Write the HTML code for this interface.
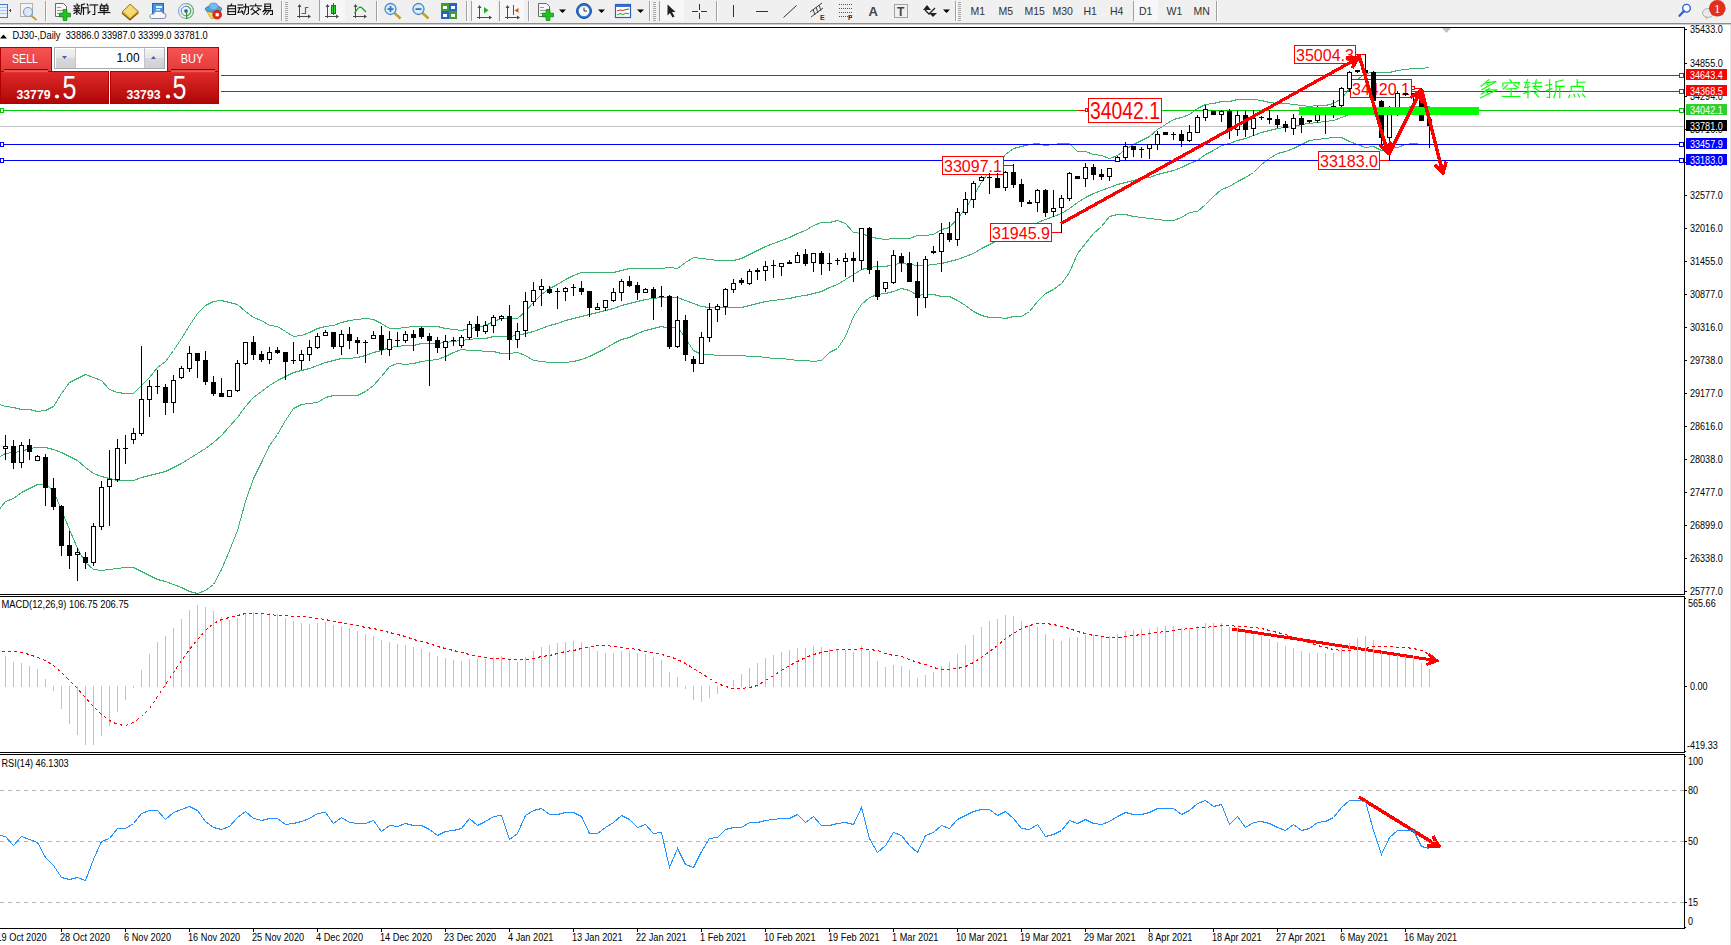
<!DOCTYPE html><html><head><meta charset="utf-8"><style>
html,body{margin:0;padding:0;background:#fff;overflow:hidden;width:1731px;height:945px}
svg text{font-family:"Liberation Sans", sans-serif}
.tf{font-size:10.5px;fill:#333}
</style></head><body>
<svg width="1731" height="945" viewBox="0 0 1731 945" style="display:block">
<rect x="0" y="25" width="1731" height="920" fill="#ffffff"/>
<rect x="1730" y="25" width="1" height="920" fill="#e3e3e3"/>
<rect x="0" y="27" width="1685" height="1" fill="#000"/>
<rect x="0" y="594" width="1685" height="1" fill="#000"/>
<rect x="0" y="596" width="1685" height="1" fill="#000"/>
<rect x="0" y="752" width="1685" height="1" fill="#000"/>
<rect x="0" y="754" width="1685" height="1" fill="#000"/>
<rect x="0" y="928" width="1685" height="1" fill="#000"/>
<rect x="1684" y="27" width="1" height="568" fill="#000"/>
<rect x="1684" y="596" width="1" height="157" fill="#000"/>
<rect x="1684" y="754" width="1" height="175" fill="#000"/>
<rect x="0" y="0" width="1731" height="23" fill="#f0f0f0"/>
<rect x="0" y="23" width="1731" height="1" fill="#8c8c8c"/>
<rect x="0" y="24" width="1731" height="1" fill="#cfcfcf"/>
<rect x="-3.5" y="4.5" width="11" height="13" fill="#eaf2ff" stroke="#3a78d0"/><rect x="-2" y="7" width="9" height="1" fill="#a8c4f0"/><rect x="-2" y="10" width="9" height="1" fill="#a8c4f0"/><rect x="-2" y="13" width="9" height="1" fill="#a8c4f0"/><rect x="9" y="10" width="2" height="1" fill="#444"/><rect x="10" y="9" width="1" height="3" fill="#444"/>
<rect x="20.5" y="3.5" width="12" height="13" fill="#f4f4f4" stroke="#b8b0a0"/><circle cx="28" cy="12" r="4.5" fill="#dce8f4" stroke="#6f9fd8" stroke-width="1.2"/><line x1="31" y1="15.5" x2="36.5" y2="20" stroke="#c8a030" stroke-width="2"/>
<rect x="45" y="1" width="1" height="20" fill="#a0a0a0"/><rect x="46" y="1" width="1" height="20" fill="#ffffff"/>
<path d="M55.5,3.5 h8 l3,3 v10 h-11 z" fill="#f8f8f8" stroke="#6a6a6a" stroke-width="1"/><rect x="57" y="7" width="4" height="1" fill="#999"/><rect x="57" y="10" width="6" height="1" fill="#999"/><rect x="57" y="13" width="6" height="1" fill="#999"/><path d="M63.166666666666664,9.5 h3.6666666666666665 v3.6666666666666665 h3.6666666666666665 v3.6666666666666665 h-3.6666666666666665 v3.6666666666666665 h-3.6666666666666665 v-3.6666666666666665 h-3.6666666666666665 v-3.6666666666666665 h3.6666666666666665 z" fill="#1fc21f" stroke="#0a8a0a" stroke-width="0.8"/>
<polyline points="76.85,4.00 77.80,4.95" fill="none" stroke="#111" stroke-width="1.1" stroke-linecap="square"/><polyline points="74.00,5.90 79.70,5.90" fill="none" stroke="#111" stroke-width="1.1" stroke-linecap="square"/><polyline points="74.95,6.85 75.90,7.80" fill="none" stroke="#111" stroke-width="1.1" stroke-linecap="square"/><polyline points="78.75,6.85 77.80,7.80" fill="none" stroke="#111" stroke-width="1.1" stroke-linecap="square"/><polyline points="74.00,8.75 79.70,8.75" fill="none" stroke="#111" stroke-width="1.1" stroke-linecap="square"/><polyline points="74.00,10.65 79.70,10.65" fill="none" stroke="#111" stroke-width="1.1" stroke-linecap="square"/><polyline points="76.85,8.75 76.85,14.45" fill="none" stroke="#111" stroke-width="1.1" stroke-linecap="square"/><polyline points="76.85,11.60 74.00,13.50" fill="none" stroke="#111" stroke-width="1.1" stroke-linecap="square"/><polyline points="77.80,11.60 79.70,13.50" fill="none" stroke="#111" stroke-width="1.1" stroke-linecap="square"/><polyline points="84.45,4.00 81.60,4.95" fill="none" stroke="#111" stroke-width="1.1" stroke-linecap="square"/><polyline points="81.60,4.95 81.60,10.65 80.65,14.45" fill="none" stroke="#111" stroke-width="1.1" stroke-linecap="square"/><polyline points="81.60,7.80 85.40,7.80" fill="none" stroke="#111" stroke-width="1.1" stroke-linecap="square"/><polyline points="83.50,7.80 83.50,14.45" fill="none" stroke="#111" stroke-width="1.1" stroke-linecap="square"/><polyline points="87.15,4.00 88.10,5.90" fill="none" stroke="#111" stroke-width="1.1" stroke-linecap="square"/><polyline points="86.20,7.80 88.10,7.80 88.10,13.50 90.00,11.60" fill="none" stroke="#111" stroke-width="1.1" stroke-linecap="square"/><polyline points="90.00,4.95 97.60,4.95" fill="none" stroke="#111" stroke-width="1.1" stroke-linecap="square"/><polyline points="94.75,4.95 94.75,14.45 92.85,14.45" fill="none" stroke="#111" stroke-width="1.1" stroke-linecap="square"/><polyline points="101.25,4.00 102.20,4.95" fill="none" stroke="#111" stroke-width="1.1" stroke-linecap="square"/><polyline points="106.95,4.00 106.00,4.95" fill="none" stroke="#111" stroke-width="1.1" stroke-linecap="square"/><polyline points="100.30,5.90 107.90,5.90 107.90,10.65 100.30,10.65 100.30,5.90" fill="none" stroke="#111" stroke-width="1.1" stroke-linecap="square"/><polyline points="100.30,8.27 107.90,8.27" fill="none" stroke="#111" stroke-width="1.1" stroke-linecap="square"/><polyline points="104.10,5.90 104.10,14.45" fill="none" stroke="#111" stroke-width="1.1" stroke-linecap="square"/><polyline points="98.40,12.55 109.80,12.55" fill="none" stroke="#111" stroke-width="1.1" stroke-linecap="square"/>
<path d="M122,12 L130,19 L138.5,11.5 L130,4 Z" fill="#e9c64a" stroke="#a47a18" stroke-width="0.9"/><path d="M124,11.5 L130,5.5 L136.5,11.5 L130,17 Z" fill="#f6dc78"/><path d="M122,13 L130,20 L138.5,12.5" fill="none" stroke="#8a5a10" stroke-width="1.3"/>
<rect x="152.5" y="3.5" width="11" height="10" fill="#4a94e4" stroke="#2a64b4"/><rect x="156" y="6" width="6" height="2" fill="#e8f2ff"/><rect x="156" y="9" width="4" height="1.5" fill="#e8f2ff"/><path d="M151.5,18.5 Q149,18 150,15.5 Q151,13.5 153.5,14 Q155,10.5 159,11.5 Q161.5,10.5 163,13 Q166.5,13 166,16 Q166,18.5 163.5,18.5 Z" fill="#f4f7fb" stroke="#7f8fa8" stroke-width="1"/>
<circle cx="186" cy="11" r="7.5" fill="none" stroke="#7aa0d8" stroke-width="1"/><circle cx="186" cy="11" r="4.8" fill="none" stroke="#5a88d0" stroke-width="1"/><path d="M186,3.5 A7.5,7.5 0 0 1 186,18.5" fill="none" stroke="#78b878" stroke-width="1.1"/><path d="M186,6.2 A4.8,4.8 0 0 1 186,15.8" fill="none" stroke="#60a860" stroke-width="1.1"/><circle cx="186" cy="11" r="1.8" fill="#2050c0"/><rect x="186" y="11" width="1.2" height="8" fill="#20a020"/>
<path d="M206.5,11 L211,18.5 L218,18.5 L221,11 Z" fill="#f2d858" stroke="#c8a428" stroke-width="0.8"/><ellipse cx="213.5" cy="9" rx="8.3" ry="3.2" fill="#5aa2de" stroke="#2f6eb0" stroke-width="0.8"/><ellipse cx="213.5" cy="6.5" rx="4.5" ry="3.5" fill="#78bcee" stroke="#3a7ab8" stroke-width="0.6"/><circle cx="217.2" cy="14.7" r="4.4" fill="#e2261c" stroke="#b01010" stroke-width="0.6"/><rect x="215.6" y="13.1" width="3.2" height="3.2" fill="#fff"/>
<polyline points="231.70,4.00 230.75,5.42" fill="none" stroke="#111" stroke-width="1.1" stroke-linecap="square"/><polyline points="227.90,5.90 235.50,5.90 235.50,14.45 227.90,14.45 227.90,5.90" fill="none" stroke="#111" stroke-width="1.1" stroke-linecap="square"/><polyline points="227.90,8.75 235.50,8.75" fill="none" stroke="#111" stroke-width="1.1" stroke-linecap="square"/><polyline points="227.90,11.60 235.50,11.60" fill="none" stroke="#111" stroke-width="1.1" stroke-linecap="square"/><polyline points="238.00,4.95 242.75,4.95" fill="none" stroke="#111" stroke-width="1.1" stroke-linecap="square"/><polyline points="238.00,7.80 242.75,7.80" fill="none" stroke="#111" stroke-width="1.1" stroke-linecap="square"/><polyline points="239.90,7.80 238.00,12.55 242.75,11.60" fill="none" stroke="#111" stroke-width="1.1" stroke-linecap="square"/><polyline points="241.80,10.65 242.75,13.50" fill="none" stroke="#111" stroke-width="1.1" stroke-linecap="square"/><polyline points="243.70,6.85 248.45,6.85 248.45,13.50 246.55,14.45" fill="none" stroke="#111" stroke-width="1.1" stroke-linecap="square"/><polyline points="245.60,4.00 245.60,8.75 243.70,14.45" fill="none" stroke="#111" stroke-width="1.1" stroke-linecap="square"/><polyline points="255.70,4.00 255.70,5.42" fill="none" stroke="#111" stroke-width="1.1" stroke-linecap="square"/><polyline points="250.00,5.90 261.40,5.90" fill="none" stroke="#111" stroke-width="1.1" stroke-linecap="square"/><polyline points="252.85,7.80 250.95,9.70" fill="none" stroke="#111" stroke-width="1.1" stroke-linecap="square"/><polyline points="257.60,7.80 260.45,9.70" fill="none" stroke="#111" stroke-width="1.1" stroke-linecap="square"/><polyline points="252.85,9.70 258.55,14.45" fill="none" stroke="#111" stroke-width="1.1" stroke-linecap="square"/><polyline points="258.55,9.70 251.90,14.45" fill="none" stroke="#111" stroke-width="1.1" stroke-linecap="square"/><polyline points="264.85,4.00 270.55,4.00 270.55,8.75 264.85,8.75 264.85,4.00" fill="none" stroke="#111" stroke-width="1.1" stroke-linecap="square"/><polyline points="264.85,6.38 270.55,6.38" fill="none" stroke="#111" stroke-width="1.1" stroke-linecap="square"/><polyline points="265.80,8.75 262.95,11.60" fill="none" stroke="#111" stroke-width="1.1" stroke-linecap="square"/><polyline points="263.90,10.65 272.45,10.65 272.45,14.45 270.55,14.45" fill="none" stroke="#111" stroke-width="1.1" stroke-linecap="square"/><polyline points="266.75,10.65 263.90,14.45" fill="none" stroke="#111" stroke-width="1.1" stroke-linecap="square"/><polyline points="269.60,10.65 266.75,14.45" fill="none" stroke="#111" stroke-width="1.1" stroke-linecap="square"/>
<rect x="281" y="1" width="1" height="20" fill="#a0a0a0"/><rect x="282" y="1" width="1" height="20" fill="#ffffff"/>
<rect x="285" y="2" width="3" height="1" fill="#a8a8a8"/><rect x="285" y="4" width="3" height="1" fill="#a8a8a8"/><rect x="285" y="6" width="3" height="1" fill="#a8a8a8"/><rect x="285" y="8" width="3" height="1" fill="#a8a8a8"/><rect x="285" y="10" width="3" height="1" fill="#a8a8a8"/><rect x="285" y="12" width="3" height="1" fill="#a8a8a8"/><rect x="285" y="14" width="3" height="1" fill="#a8a8a8"/><rect x="285" y="16" width="3" height="1" fill="#a8a8a8"/><rect x="285" y="18" width="3" height="1" fill="#a8a8a8"/><rect x="285" y="20" width="3" height="1" fill="#a8a8a8"/>
<rect x="299" y="5" width="1" height="13" fill="#4a4a4a"/><rect x="297" y="16" width="12" height="1" fill="#4a4a4a"/><polygon points="297.5,7 299.5,4 301.5,7" fill="#4a4a4a"/><polygon points="308,14.5 311,16.5 308,18.5" fill="#4a4a4a"/><path d="M301.5,13.5 H305.5 V7.5 H308.5" fill="none" stroke="#1a9a1a" stroke-width="1.2"/>
<rect x="320" y="0" width="25" height="21" fill="#f7f7f7"/><rect x="319" y="0" width="1" height="21" fill="#a0a0a0"/>
<rect x="327" y="5" width="1" height="13" fill="#4a4a4a"/><rect x="325" y="16" width="12" height="1" fill="#4a4a4a"/><polygon points="325.5,7 327.5,4 329.5,7" fill="#4a4a4a"/><polygon points="336,14.5 339,16.5 336,18.5" fill="#4a4a4a"/><rect x="331.5" y="5.5" width="4" height="8" fill="#30d030" stroke="#108010"/><rect x="333" y="3" width="1" height="12" fill="#108010"/>
<rect x="355" y="5" width="1" height="13" fill="#4a4a4a"/><rect x="353" y="16" width="12" height="1" fill="#4a4a4a"/><polygon points="353.5,7 355.5,4 357.5,7" fill="#4a4a4a"/><polygon points="364,14.5 367,16.5 364,18.5" fill="#4a4a4a"/><path d="M354.5,13.5 Q359,5 362,8 L366,12" fill="none" stroke="#1a9a1a" stroke-width="1.2"/>
<rect x="376" y="1" width="1" height="20" fill="#a0a0a0"/><rect x="377" y="1" width="1" height="20" fill="#ffffff"/>
<line x1="394.5" y1="13" x2="400.5" y2="18.5" stroke="#c8a020" stroke-width="2.5"/><circle cx="390.5" cy="9" r="5.5" fill="#d8ecfa" stroke="#4a88d0" stroke-width="1.3"/><rect x="387.5" y="8.2" width="6" height="1.8" fill="#3a78c0"/><rect x="389.6" y="6" width="1.8" height="6" fill="#3a78c0"/>
<line x1="422.5" y1="13" x2="428.5" y2="18.5" stroke="#c8a020" stroke-width="2.5"/><circle cx="418.5" cy="9" r="5.5" fill="#d8ecfa" stroke="#4a88d0" stroke-width="1.3"/><rect x="415.5" y="8.2" width="6" height="1.8" fill="#3a78c0"/>
<rect x="441" y="3" width="8" height="8" fill="#3aa030"/><rect x="449" y="3" width="8" height="8" fill="#2a60c8"/><rect x="441" y="11" width="8" height="8" fill="#2a60c8"/><rect x="449" y="11" width="8" height="8" fill="#3aa030"/><rect x="443" y="6" width="4" height="3" fill="#fff"/><rect x="451" y="6" width="4" height="3" fill="#fff"/><rect x="443" y="14" width="4" height="3" fill="#fff"/><rect x="451" y="14" width="4" height="3" fill="#fff"/>
<rect x="466" y="1" width="1" height="20" fill="#a0a0a0"/><rect x="467" y="1" width="1" height="20" fill="#ffffff"/>
<rect x="471" y="1" width="1" height="20" fill="#a0a0a0"/>
<rect x="472" y="0" width="25" height="21" fill="#f7f7f7"/><rect x="479" y="6" width="1" height="13" fill="#4a4a4a"/><rect x="477" y="17" width="13" height="1" fill="#4a4a4a"/><polygon points="477.5,8 479.5,5 481.5,8" fill="#4a4a4a"/><polygon points="489,15.5 492,17.5 489,19.5" fill="#4a4a4a"/><polygon points="484,7 488.5,10.2 484,13.5" fill="#20b020"/>
<rect x="499" y="1" width="1" height="20" fill="#a0a0a0"/>
<rect x="500" y="0" width="24" height="21" fill="#f7f7f7"/><rect x="507" y="6" width="1" height="13" fill="#4a4a4a"/><rect x="505" y="17" width="13" height="1" fill="#4a4a4a"/><polygon points="505.5,8 507.5,5 509.5,8" fill="#4a4a4a"/><polygon points="517,15.5 520,17.5 517,19.5" fill="#4a4a4a"/><rect x="513" y="5" width="1" height="10" fill="#2060c0"/><polygon points="514.5,10.4 518.5,8 518.5,12.8" fill="#e05010"/>
<rect x="528" y="1" width="1" height="20" fill="#a0a0a0"/><rect x="529" y="1" width="1" height="20" fill="#ffffff"/>
<path d="M538.5,3.5 h8 l3,3 v10 h-11 z" fill="#f8f8f8" stroke="#6a6a6a" stroke-width="1"/><rect x="540" y="7" width="4" height="1" fill="#999"/><rect x="540" y="10" width="6" height="1" fill="#999"/><rect x="540" y="13" width="6" height="1" fill="#999"/><path d="M546.1666666666666,9.5 h3.6666666666666665 v3.6666666666666665 h3.6666666666666665 v3.6666666666666665 h-3.6666666666666665 v3.6666666666666665 h-3.6666666666666665 v-3.6666666666666665 h-3.6666666666666665 v-3.6666666666666665 h3.6666666666666665 z" fill="#1fc21f" stroke="#0a8a0a" stroke-width="0.8"/>
<polygon points="559,9.5 566,9.5 562.5,13" fill="#000"/>
<circle cx="584" cy="11" r="7.5" fill="#2a70d0" stroke="#1a50a0"/><circle cx="584" cy="11" r="5.3" fill="#f8f8f8"/><path d="M584,7.5 V11 H587" fill="none" stroke="#333" stroke-width="1"/>
<polygon points="598,9.5 605,9.5 601.5,13" fill="#000"/>
<rect x="615.5" y="4.5" width="15" height="13" fill="#fff" stroke="#2a60c0" stroke-width="1.2"/><rect x="616" y="5" width="14" height="2" fill="#3a70d0"/><path d="M617,11 L620,10 L623,10.5 L626,9.5 L629,9" fill="none" stroke="#c03020" stroke-width="1"/><path d="M617,15 L620,13.5 L623,14.5 L626,13 L629,14" fill="none" stroke="#20a020" stroke-width="1"/>
<polygon points="637,9.5 644,9.5 640.5,13" fill="#000"/>
<rect x="649" y="1" width="1" height="20" fill="#a0a0a0"/><rect x="650" y="1" width="1" height="20" fill="#ffffff"/>
<rect x="653" y="2" width="3" height="1" fill="#a8a8a8"/><rect x="653" y="4" width="3" height="1" fill="#a8a8a8"/><rect x="653" y="6" width="3" height="1" fill="#a8a8a8"/><rect x="653" y="8" width="3" height="1" fill="#a8a8a8"/><rect x="653" y="10" width="3" height="1" fill="#a8a8a8"/><rect x="653" y="12" width="3" height="1" fill="#a8a8a8"/><rect x="653" y="14" width="3" height="1" fill="#a8a8a8"/><rect x="653" y="16" width="3" height="1" fill="#a8a8a8"/><rect x="653" y="18" width="3" height="1" fill="#a8a8a8"/><rect x="653" y="20" width="3" height="1" fill="#a8a8a8"/>
<rect x="659" y="1" width="1" height="20" fill="#a0a0a0"/>
<rect x="660" y="0" width="24" height="21" fill="#f7f7f7"/>
<path d="M667.5,4.5 L667.5,15.5 L670,13 L672.5,17.5 L674.5,16.5 L672,12 L675.5,12 Z" fill="#222"/>
<rect x="692" y="11" width="15" height="1" fill="#333"/><rect x="699" y="4" width="1" height="15" fill="#333"/><rect x="698" y="10" width="3" height="3" fill="#f0f0f0"/>
<rect x="716" y="1" width="1" height="20" fill="#a0a0a0"/><rect x="717" y="1" width="1" height="20" fill="#ffffff"/>
<rect x="733" y="5" width="1" height="12" fill="#333"/>
<rect x="756" y="11" width="12" height="1" fill="#333"/>
<line x1="783.5" y1="17.5" x2="796.5" y2="5.5" stroke="#333" stroke-width="1"/>
<line x1="810" y1="12" x2="822" y2="3" stroke="#444" stroke-width="1"/><line x1="811" y1="17" x2="823" y2="8" stroke="#444" stroke-width="1"/><line x1="813" y1="9" x2="815" y2="15" stroke="#444"/><line x1="816" y1="7" x2="818" y2="13" stroke="#444"/><line x1="819" y1="5" x2="821" y2="11" stroke="#444"/><text x="820" y="20" style="font-size:7px;font-weight:bold;fill:#333">E</text>
<line x1="839" y1="4.5" x2="853" y2="4.5" stroke="#555" stroke-dasharray="1 1"/>
<line x1="839" y1="8.5" x2="853" y2="8.5" stroke="#555" stroke-dasharray="1 1"/>
<line x1="839" y1="12.5" x2="853" y2="12.5" stroke="#555" stroke-dasharray="1 1"/>
<line x1="839" y1="16.5" x2="853" y2="16.5" stroke="#555" stroke-dasharray="1 1"/>
<text x="848" y="20" style="font-size:7px;font-weight:bold;fill:#333">F</text>
<text x="868.5" y="16" style="font-size:13px;font-weight:bold;fill:#444">A</text>
<rect x="894.5" y="4.5" width="13" height="13" fill="none" stroke="#555" stroke-dasharray="1 1"/><text x="897" y="16" style="font-size:12px;font-weight:bold;fill:#444">T</text>
<polygon points="923,10 927,5 931,10" fill="#222"/><polygon points="929,13 933,17 937,13" fill="#222"/><path d="M925,10 L929,14 L935,8" fill="none" stroke="#222" stroke-width="1.3"/>
<polygon points="943,9.5 950,9.5 946.5,13" fill="#000"/>
<rect x="955" y="1" width="1" height="20" fill="#a0a0a0"/><rect x="956" y="1" width="1" height="20" fill="#ffffff"/>
<rect x="958" y="2" width="3" height="1" fill="#a8a8a8"/><rect x="958" y="4" width="3" height="1" fill="#a8a8a8"/><rect x="958" y="6" width="3" height="1" fill="#a8a8a8"/><rect x="958" y="8" width="3" height="1" fill="#a8a8a8"/><rect x="958" y="10" width="3" height="1" fill="#a8a8a8"/><rect x="958" y="12" width="3" height="1" fill="#a8a8a8"/><rect x="958" y="14" width="3" height="1" fill="#a8a8a8"/><rect x="958" y="16" width="3" height="1" fill="#a8a8a8"/><rect x="958" y="18" width="3" height="1" fill="#a8a8a8"/><rect x="958" y="20" width="3" height="1" fill="#a8a8a8"/>
<text x="970.5" y="15" class="tf">M1</text>
<text x="998.5" y="15" class="tf">M5</text>
<text x="1024.5" y="15" class="tf">M15</text>
<text x="1052.5" y="15" class="tf">M30</text>
<text x="1083.5" y="15" class="tf">H1</text>
<text x="1110" y="15" class="tf">H4</text>
<rect x="1133" y="1" width="1" height="20" fill="#a0a0a0"/><rect x="1134" y="0" width="24" height="21" fill="#f7f7f7"/>
<text x="1139" y="15" class="tf">D1</text>
<text x="1166.5" y="15" class="tf">W1</text>
<text x="1193.5" y="15" class="tf">MN</text>
<rect x="1216" y="1" width="1" height="20" fill="#a0a0a0"/><rect x="1217" y="1" width="1" height="20" fill="#ffffff"/>
<circle cx="1686.5" cy="8.2" r="3.8" fill="#fff" stroke="#2a60d0" stroke-width="1.4"/><line x1="1684" y1="11" x2="1679.5" y2="15.8" stroke="#2a60d0" stroke-width="2.2" stroke-linecap="round"/>
<ellipse cx="1708" cy="13" rx="5.5" ry="4.5" fill="#e8e8ee" stroke="#b0b0b0" stroke-width="1"/><polygon points="1705,16 1706,20 1709,17" fill="#c0c0c0"/>
<circle cx="1717.3" cy="8.3" r="8.3" fill="#e0301c"/><text x="1717.3" y="12.5" text-anchor="middle" style="font-size:12px;font-family:'Liberation Serif',serif;fill:#fff">1</text>
<polygon points="0,38.5 3.5,34.5 7,38.5" fill="#000"/>
<text transform="translate(12.5,39) scale(0.93,1)" x="0" y="0" text-anchor="start" style="font-size:10px;font-weight:normal;fill:#000;white-space:pre">DJ30-,Daily  33886.0 33987.0 33399.0 33781.0</text>
<polygon points="1442,28 1451,28 1446.5,33" fill="#c0c0c0"/>
<polyline points="0.0,404.5 5.5,406.5 13.5,407.5 21.5,409.5 29.5,409.5 37.5,411.5 45.5,410.5 53.5,406.5 61.5,393.5 69.5,382.5 77.5,378.5 85.5,374.5 93.5,377.5 101.5,380.5 109.5,389.5 117.5,392.5 125.5,393.5 133.5,393.5 141.5,385.5 149.5,377.5 157.5,367.5 165.5,361.5 173.5,350.5 181.5,338.5 189.5,325.5 197.5,313.5 205.5,305.5 213.5,301.5 221.5,300.5 229.5,302.5 237.5,304.5 245.5,311.5 253.5,317.5 261.5,320.5 269.5,325.5 277.5,326.5 285.5,331.5 293.5,336.5 301.5,335.5 309.5,332.5 317.5,328.5 325.5,326.5 333.5,325.5 341.5,322.5 349.5,320.5 357.5,319.5 365.5,318.5 373.5,319.5 381.5,323.5 389.5,328.5 397.5,328.5 405.5,327.5 413.5,326.5 421.5,326.5 429.5,326.5 437.5,326.5 445.5,328.5 453.5,329.5 461.5,330.5 469.5,328.5 477.5,327.5 485.5,325.5 493.5,321.5 501.5,318.5 509.5,318.5 517.5,318.5 525.5,311.5 533.5,302.5 541.5,294.5 549.5,288.5 557.5,284.5 565.5,279.5 573.5,275.5 581.5,272.5 589.5,272.5 597.5,272.5 605.5,272.5 613.5,272.5 621.5,270.5 629.5,268.5 637.5,268.5 645.5,268.5 653.5,268.5 661.5,268.5 669.5,267.5 677.5,268.5 685.5,262.5 693.5,257.5 701.5,258.5 709.5,259.5 717.5,260.5 725.5,260.5 733.5,260.5 741.5,258.5 749.5,254.5 757.5,250.5 765.5,246.5 773.5,243.5 781.5,240.5 789.5,237.5 797.5,233.5 805.5,230.5 813.5,225.5 821.5,222.5 829.5,222.5 837.5,220.5 845.5,223.5 853.5,232.5 861.5,233.5 869.5,236.5 877.5,238.5 885.5,239.5 893.5,238.5 901.5,238.5 909.5,238.5 917.5,235.5 925.5,235.5 933.5,234.5 941.5,229.5 949.5,227.5 957.5,218.5 965.5,208.5 973.5,195.5 981.5,182.5 989.5,171.5 997.5,164.5 1005.5,154.5 1013.5,148.5 1021.5,146.5 1029.5,144.5 1037.5,143.5 1045.5,145.5 1053.5,144.5 1061.5,143.5 1069.5,143.5 1077.5,151.5 1085.5,151.5 1093.5,154.5 1101.5,155.5 1109.5,158.5 1117.5,155.5 1125.5,149.5 1133.5,144.5 1141.5,140.5 1149.5,136.5 1157.5,129.5 1165.5,124.5 1173.5,119.5 1181.5,117.5 1189.5,114.5 1197.5,108.5 1205.5,104.5 1213.5,103.5 1221.5,101.5 1229.5,101.5 1237.5,99.5 1245.5,99.5 1253.5,99.5 1261.5,100.5 1269.5,102.5 1277.5,103.5 1285.5,103.5 1293.5,104.5 1301.5,105.5 1309.5,106.5 1317.5,105.5 1325.5,105.5 1333.5,103.5 1341.5,98.5 1349.5,88.5 1357.5,79.5 1365.5,73.5 1373.5,72.5 1381.5,72.5 1389.5,72.5 1397.5,70.5 1405.5,69.5 1413.5,68.5 1421.5,68.5 1429.5,67.5" fill="none" stroke="#3cb371" stroke-width="1" shape-rendering="crispEdges"/>
<polyline points="0.0,456.5 5.5,453.5 13.5,452.5 21.5,451.5 29.5,448.5 37.5,447.5 45.5,447.5 53.5,449.5 61.5,452.5 69.5,456.5 77.5,460.5 85.5,467.5 93.5,473.5 101.5,476.5 109.5,478.5 117.5,480.5 125.5,480.5 133.5,480.5 141.5,477.5 149.5,475.5 157.5,473.5 165.5,471.5 173.5,467.5 181.5,463.5 189.5,458.5 197.5,453.5 205.5,448.5 213.5,442.5 221.5,435.5 229.5,426.5 237.5,417.5 245.5,406.5 253.5,397.5 261.5,391.5 269.5,385.5 277.5,380.5 285.5,376.5 293.5,372.5 301.5,370.5 309.5,368.5 317.5,365.5 325.5,362.5 333.5,360.5 341.5,358.5 349.5,358.5 357.5,357.5 365.5,355.5 373.5,352.5 381.5,350.5 389.5,347.5 397.5,346.5 405.5,345.5 413.5,345.5 421.5,343.5 429.5,343.5 437.5,343.5 445.5,342.5 453.5,341.5 461.5,340.5 469.5,339.5 477.5,338.5 485.5,338.5 493.5,336.5 501.5,336.5 509.5,336.5 517.5,335.5 525.5,333.5 533.5,331.5 541.5,328.5 549.5,325.5 557.5,323.5 565.5,320.5 573.5,318.5 581.5,316.5 589.5,314.5 597.5,312.5 605.5,310.5 613.5,308.5 621.5,305.5 629.5,303.5 637.5,301.5 645.5,299.5 653.5,298.5 661.5,297.5 669.5,297.5 677.5,297.5 685.5,300.5 693.5,303.5 701.5,306.5 709.5,307.5 717.5,307.5 725.5,307.5 733.5,307.5 741.5,307.5 749.5,305.5 757.5,303.5 765.5,301.5 773.5,300.5 781.5,299.5 789.5,298.5 797.5,296.5 805.5,295.5 813.5,293.5 821.5,291.5 829.5,287.5 837.5,284.5 845.5,279.5 853.5,274.5 861.5,269.5 869.5,267.5 877.5,266.5 885.5,266.5 893.5,264.5 901.5,263.5 909.5,264.5 917.5,265.5 925.5,265.5 933.5,264.5 941.5,263.5 949.5,261.5 957.5,259.5 965.5,256.5 973.5,253.5 981.5,248.5 989.5,244.5 997.5,240.5 1005.5,236.5 1013.5,232.5 1021.5,231.5 1029.5,228.5 1037.5,222.5 1045.5,219.5 1053.5,216.5 1061.5,213.5 1069.5,208.5 1077.5,202.5 1085.5,197.5 1093.5,193.5 1101.5,190.5 1109.5,187.5 1117.5,184.5 1125.5,182.5 1133.5,180.5 1141.5,178.5 1149.5,177.5 1157.5,174.5 1165.5,172.5 1173.5,170.5 1181.5,167.5 1189.5,163.5 1197.5,160.5 1205.5,154.5 1213.5,150.5 1221.5,145.5 1229.5,143.5 1237.5,140.5 1245.5,138.5 1253.5,135.5 1261.5,132.5 1269.5,130.5 1277.5,128.5 1285.5,127.5 1293.5,126.5 1301.5,124.5 1309.5,123.5 1317.5,122.5 1325.5,121.5 1333.5,120.5 1341.5,117.5 1349.5,114.5 1357.5,112.5 1365.5,110.5 1373.5,109.5 1381.5,111.5 1389.5,110.5 1397.5,108.5 1405.5,107.5 1413.5,106.5 1421.5,106.5 1429.5,106.5" fill="none" stroke="#3cb371" stroke-width="1" shape-rendering="crispEdges"/>
<polyline points="0.0,508.5 5.5,501.5 13.5,498.5 21.5,492.5 29.5,488.5 37.5,484.5 45.5,484.5 53.5,490.5 61.5,510.5 69.5,529.5 77.5,548.5 85.5,562.5 93.5,569.5 101.5,570.5 109.5,569.5 117.5,568.5 125.5,567.5 133.5,567.5 141.5,571.5 149.5,575.5 157.5,579.5 165.5,581.5 173.5,584.5 181.5,587.5 189.5,591.5 197.5,593.5 205.5,590.5 213.5,584.5 221.5,569.5 229.5,550.5 237.5,530.5 245.5,501.5 253.5,478.5 261.5,462.5 269.5,445.5 277.5,434.5 285.5,420.5 293.5,408.5 301.5,404.5 309.5,403.5 317.5,402.5 325.5,397.5 333.5,395.5 341.5,395.5 349.5,395.5 357.5,395.5 365.5,391.5 373.5,385.5 381.5,376.5 389.5,366.5 397.5,363.5 405.5,364.5 413.5,363.5 421.5,361.5 429.5,360.5 437.5,359.5 445.5,356.5 453.5,352.5 461.5,349.5 469.5,350.5 477.5,350.5 485.5,351.5 493.5,351.5 501.5,353.5 509.5,353.5 517.5,352.5 525.5,355.5 533.5,360.5 541.5,361.5 549.5,362.5 557.5,362.5 565.5,362.5 573.5,361.5 581.5,359.5 589.5,356.5 597.5,352.5 605.5,348.5 613.5,343.5 621.5,339.5 629.5,337.5 637.5,333.5 645.5,330.5 653.5,328.5 661.5,326.5 669.5,328.5 677.5,326.5 685.5,338.5 693.5,350.5 701.5,354.5 709.5,354.5 717.5,355.5 725.5,355.5 733.5,355.5 741.5,355.5 749.5,356.5 757.5,356.5 765.5,357.5 773.5,358.5 781.5,358.5 789.5,359.5 797.5,360.5 805.5,360.5 813.5,361.5 821.5,360.5 829.5,352.5 837.5,348.5 845.5,336.5 853.5,316.5 861.5,304.5 869.5,297.5 877.5,294.5 885.5,293.5 893.5,291.5 901.5,288.5 909.5,290.5 917.5,295.5 925.5,294.5 933.5,294.5 941.5,296.5 949.5,296.5 957.5,300.5 965.5,305.5 973.5,311.5 981.5,315.5 989.5,317.5 997.5,317.5 1005.5,318.5 1013.5,316.5 1021.5,316.5 1029.5,311.5 1037.5,301.5 1045.5,293.5 1053.5,289.5 1061.5,283.5 1069.5,272.5 1077.5,253.5 1085.5,243.5 1093.5,233.5 1101.5,226.5 1109.5,216.5 1117.5,214.5 1125.5,214.5 1133.5,216.5 1141.5,217.5 1149.5,218.5 1157.5,219.5 1165.5,220.5 1173.5,220.5 1181.5,217.5 1189.5,212.5 1197.5,211.5 1205.5,204.5 1213.5,196.5 1221.5,189.5 1229.5,186.5 1237.5,181.5 1245.5,177.5 1253.5,172.5 1261.5,164.5 1269.5,158.5 1277.5,153.5 1285.5,151.5 1293.5,148.5 1301.5,144.5 1309.5,140.5 1317.5,139.5 1325.5,138.5 1333.5,137.5 1341.5,137.5 1349.5,141.5 1357.5,144.5 1365.5,147.5 1373.5,146.5 1381.5,150.5 1389.5,147.5 1397.5,147.5 1405.5,144.5 1413.5,143.5 1421.5,144.5 1429.5,144.5" fill="none" stroke="#3cb371" stroke-width="1" shape-rendering="crispEdges"/>
<rect x="0" y="75" width="1684" height="1" fill="#ff0000"/>
<rect x="1679.5" y="73.5" width="4" height="4" fill="#fff" stroke="#ff0000" stroke-width="1"/>
<rect x="0.5" y="73.5" width="3" height="4" fill="#fff" stroke="#ff0000" stroke-width="1"/>
<rect x="0" y="91" width="1684" height="1" fill="#ff0000"/>
<rect x="1679.5" y="89.5" width="4" height="4" fill="#fff" stroke="#ff0000" stroke-width="1"/>
<rect x="0.5" y="89.5" width="3" height="4" fill="#fff" stroke="#ff0000" stroke-width="1"/>
<rect x="0" y="110" width="1684" height="1" fill="#00c800"/>
<rect x="1679.5" y="108.5" width="4" height="4" fill="#fff" stroke="#00c800" stroke-width="1"/>
<rect x="0.5" y="108.5" width="3" height="4" fill="#fff" stroke="#00c800" stroke-width="1"/>
<rect x="0" y="144" width="1684" height="1" fill="#0000ff"/>
<rect x="1679.5" y="142.5" width="4" height="4" fill="#fff" stroke="#0000ff" stroke-width="1"/>
<rect x="0.5" y="142.5" width="3" height="4" fill="#fff" stroke="#0000ff" stroke-width="1"/>
<rect x="0" y="160" width="1684" height="1" fill="#0000ff"/>
<rect x="1679.5" y="158.5" width="4" height="4" fill="#fff" stroke="#0000ff" stroke-width="1"/>
<rect x="0.5" y="158.5" width="3" height="4" fill="#fff" stroke="#0000ff" stroke-width="1"/>
<rect x="0" y="126" width="1684" height="1" fill="#c0c0c0"/>
<rect x="1088.5" y="98.5" width="73" height="24" fill="#fff" stroke="#ff0000" stroke-width="1" shape-rendering="crispEdges"/><text transform="translate(1125.0,118.5) scale(0.824,1)" x="0" y="0" text-anchor="middle" style="font-size:23.5px;font-weight:normal;fill:#ff0000;white-space:pre">34042.1</text>
<rect x="1078" y="110" width="8" height="1" fill="#ff0000"/><rect x="1085.5" y="108.5" width="2" height="3" fill="#fff" stroke="#ff0000" shape-rendering="crispEdges"/>
<rect x="942.5" y="156.5" width="61" height="18" fill="#fff" stroke="#ff0000" stroke-width="1" shape-rendering="crispEdges"/><text transform="translate(973.0,171.5) scale(0.966,1)" x="0" y="0" text-anchor="middle" style="font-size:16.6px;font-weight:normal;fill:#ff0000;white-space:pre">33097.1</text>
<rect x="1004" y="165" width="9" height="1" fill="#ff0000"/>
<rect x="990.5" y="223.5" width="61" height="18" fill="#fff" stroke="#ff0000" stroke-width="1" shape-rendering="crispEdges"/><text transform="translate(1021.0,238.5) scale(0.966,1)" x="0" y="0" text-anchor="middle" style="font-size:16.6px;font-weight:normal;fill:#ff0000;white-space:pre">31945.9</text>
<rect x="1051" y="232" width="10" height="1" fill="#ff0000"/>
<rect x="1294.5" y="45.5" width="61" height="18" fill="#fff" stroke="#ff0000" stroke-width="1" shape-rendering="crispEdges"/><text transform="translate(1325.0,60.5) scale(0.966,1)" x="0" y="0" text-anchor="middle" style="font-size:16.6px;font-weight:normal;fill:#ff0000;white-space:pre">35004.3</text>
<rect x="1355" y="54" width="10" height="1" fill="#ff0000"/>
<rect x="1350.5" y="79.5" width="61" height="18" fill="#fff" stroke="#ff0000" stroke-width="1" shape-rendering="crispEdges"/><text transform="translate(1381.0,94.5) scale(0.966,1)" x="0" y="0" text-anchor="middle" style="font-size:16.6px;font-weight:normal;fill:#ff0000;white-space:pre">34420.1</text>
<rect x="1411" y="88" width="10" height="1" fill="#ff0000"/><rect x="1411.5" y="86.5" width="3" height="3" fill="#fff" stroke="#ff0000" shape-rendering="crispEdges"/>
<rect x="1318.5" y="151.5" width="61" height="18" fill="#fff" stroke="#ff0000" stroke-width="1" shape-rendering="crispEdges"/><text transform="translate(1349.0,166.5) scale(0.966,1)" x="0" y="0" text-anchor="middle" style="font-size:16.6px;font-weight:normal;fill:#ff0000;white-space:pre">33183.0</text>
<rect x="1379" y="160" width="10" height="1" fill="#ff0000"/>
<rect x="5" y="435" width="1" height="25" fill="#000"/>
<rect x="3" y="446" width="5" height="3" fill="#000"/>
<rect x="4" y="447" width="3" height="1" fill="#fff"/>
<rect x="13" y="440" width="1" height="29" fill="#000"/>
<rect x="11" y="446" width="5" height="17" fill="#000"/>
<rect x="21" y="442" width="1" height="26" fill="#000"/>
<rect x="19" y="445" width="5" height="18" fill="#000"/>
<rect x="20" y="446" width="3" height="16" fill="#fff"/>
<rect x="29" y="439" width="1" height="21" fill="#000"/>
<rect x="27" y="445" width="5" height="7" fill="#000"/>
<rect x="37" y="455" width="1" height="6" fill="#000"/>
<rect x="35" y="456" width="5" height="5" fill="#000"/>
<rect x="36" y="457" width="3" height="3" fill="#fff"/>
<rect x="45" y="454" width="1" height="52" fill="#000"/>
<rect x="43" y="457" width="5" height="31" fill="#000"/>
<rect x="53" y="478" width="1" height="32" fill="#000"/>
<rect x="51" y="488" width="5" height="19" fill="#000"/>
<rect x="61" y="505" width="1" height="51" fill="#000"/>
<rect x="59" y="506" width="5" height="40" fill="#000"/>
<rect x="69" y="531" width="1" height="38" fill="#000"/>
<rect x="67" y="545" width="5" height="11" fill="#000"/>
<rect x="77" y="548" width="1" height="33" fill="#000"/>
<rect x="75" y="552" width="5" height="3" fill="#000"/>
<rect x="76" y="553" width="3" height="1" fill="#fff"/>
<rect x="85" y="552" width="1" height="17" fill="#000"/>
<rect x="83" y="557" width="5" height="6" fill="#000"/>
<rect x="93" y="523" width="1" height="43" fill="#000"/>
<rect x="91" y="526" width="5" height="37" fill="#000"/>
<rect x="92" y="527" width="3" height="35" fill="#fff"/>
<rect x="101" y="481" width="1" height="49" fill="#000"/>
<rect x="99" y="487" width="5" height="40" fill="#000"/>
<rect x="100" y="488" width="3" height="38" fill="#fff"/>
<rect x="109" y="450" width="1" height="76" fill="#000"/>
<rect x="107" y="479" width="5" height="8" fill="#000"/>
<rect x="108" y="480" width="3" height="6" fill="#fff"/>
<rect x="117" y="439" width="1" height="43" fill="#000"/>
<rect x="115" y="448" width="5" height="32" fill="#000"/>
<rect x="116" y="449" width="3" height="30" fill="#fff"/>
<rect x="125" y="435" width="1" height="29" fill="#000"/>
<rect x="123" y="448" width="5" height="1" fill="#000"/>
<rect x="133" y="428" width="1" height="16" fill="#000"/>
<rect x="131" y="433" width="5" height="7" fill="#000"/>
<rect x="132" y="434" width="3" height="5" fill="#fff"/>
<rect x="141" y="346" width="1" height="90" fill="#000"/>
<rect x="139" y="399" width="5" height="35" fill="#000"/>
<rect x="140" y="400" width="3" height="33" fill="#fff"/>
<rect x="149" y="380" width="1" height="37" fill="#000"/>
<rect x="147" y="386" width="5" height="14" fill="#000"/>
<rect x="148" y="387" width="3" height="12" fill="#fff"/>
<rect x="157" y="370" width="1" height="24" fill="#000"/>
<rect x="155" y="386" width="5" height="1" fill="#000"/>
<rect x="165" y="384" width="1" height="31" fill="#000"/>
<rect x="163" y="387" width="5" height="16" fill="#000"/>
<rect x="173" y="375" width="1" height="38" fill="#000"/>
<rect x="171" y="380" width="5" height="23" fill="#000"/>
<rect x="172" y="381" width="3" height="21" fill="#fff"/>
<rect x="181" y="366" width="1" height="13" fill="#000"/>
<rect x="179" y="368" width="5" height="10" fill="#000"/>
<rect x="180" y="369" width="3" height="8" fill="#fff"/>
<rect x="189" y="346" width="1" height="26" fill="#000"/>
<rect x="187" y="353" width="5" height="16" fill="#000"/>
<rect x="188" y="354" width="3" height="14" fill="#fff"/>
<rect x="197" y="353" width="1" height="25" fill="#000"/>
<rect x="195" y="353" width="5" height="8" fill="#000"/>
<rect x="205" y="351" width="1" height="34" fill="#000"/>
<rect x="203" y="360" width="5" height="22" fill="#000"/>
<rect x="213" y="376" width="1" height="20" fill="#000"/>
<rect x="211" y="382" width="5" height="12" fill="#000"/>
<rect x="221" y="378" width="1" height="19" fill="#000"/>
<rect x="219" y="393" width="5" height="4" fill="#000"/>
<rect x="229" y="390" width="1" height="7" fill="#000"/>
<rect x="227" y="390" width="5" height="7" fill="#000"/>
<rect x="228" y="391" width="3" height="5" fill="#fff"/>
<rect x="237" y="360" width="1" height="32" fill="#000"/>
<rect x="235" y="363" width="5" height="28" fill="#000"/>
<rect x="236" y="364" width="3" height="26" fill="#fff"/>
<rect x="245" y="342" width="1" height="23" fill="#000"/>
<rect x="243" y="342" width="5" height="22" fill="#000"/>
<rect x="244" y="343" width="3" height="20" fill="#fff"/>
<rect x="253" y="336" width="1" height="24" fill="#000"/>
<rect x="251" y="342" width="5" height="13" fill="#000"/>
<rect x="261" y="351" width="1" height="11" fill="#000"/>
<rect x="259" y="354" width="5" height="6" fill="#000"/>
<rect x="269" y="347" width="1" height="17" fill="#000"/>
<rect x="267" y="352" width="5" height="8" fill="#000"/>
<rect x="268" y="353" width="3" height="6" fill="#fff"/>
<rect x="277" y="347" width="1" height="7" fill="#000"/>
<rect x="275" y="350" width="5" height="3" fill="#000"/>
<rect x="285" y="352" width="1" height="28" fill="#000"/>
<rect x="283" y="352" width="5" height="10" fill="#000"/>
<rect x="293" y="342" width="1" height="22" fill="#000"/>
<rect x="291" y="360" width="5" height="1" fill="#000"/>
<rect x="301" y="350" width="1" height="20" fill="#000"/>
<rect x="299" y="354" width="5" height="7" fill="#000"/>
<rect x="300" y="355" width="3" height="5" fill="#fff"/>
<rect x="309" y="340" width="1" height="21" fill="#000"/>
<rect x="307" y="347" width="5" height="8" fill="#000"/>
<rect x="308" y="348" width="3" height="6" fill="#fff"/>
<rect x="317" y="333" width="1" height="16" fill="#000"/>
<rect x="315" y="336" width="5" height="12" fill="#000"/>
<rect x="316" y="337" width="3" height="10" fill="#fff"/>
<rect x="325" y="330" width="1" height="6" fill="#000"/>
<rect x="323" y="332" width="5" height="4" fill="#000"/>
<rect x="324" y="333" width="3" height="2" fill="#fff"/>
<rect x="333" y="332" width="1" height="17" fill="#000"/>
<rect x="331" y="332" width="5" height="15" fill="#000"/>
<rect x="341" y="330" width="1" height="25" fill="#000"/>
<rect x="339" y="334" width="5" height="13" fill="#000"/>
<rect x="340" y="335" width="3" height="11" fill="#fff"/>
<rect x="349" y="327" width="1" height="22" fill="#000"/>
<rect x="347" y="334" width="5" height="7" fill="#000"/>
<rect x="357" y="337" width="1" height="17" fill="#000"/>
<rect x="355" y="340" width="5" height="3" fill="#000"/>
<rect x="365" y="340" width="1" height="23" fill="#000"/>
<rect x="363" y="342" width="5" height="1" fill="#000"/>
<rect x="373" y="331" width="1" height="8" fill="#000"/>
<rect x="371" y="335" width="5" height="4" fill="#000"/>
<rect x="372" y="336" width="3" height="2" fill="#fff"/>
<rect x="381" y="326" width="1" height="29" fill="#000"/>
<rect x="379" y="335" width="5" height="15" fill="#000"/>
<rect x="389" y="331" width="1" height="25" fill="#000"/>
<rect x="387" y="339" width="5" height="11" fill="#000"/>
<rect x="388" y="340" width="3" height="9" fill="#fff"/>
<rect x="397" y="332" width="1" height="15" fill="#000"/>
<rect x="395" y="340" width="5" height="1" fill="#000"/>
<rect x="405" y="331" width="1" height="12" fill="#000"/>
<rect x="403" y="334" width="5" height="7" fill="#000"/>
<rect x="404" y="335" width="3" height="5" fill="#fff"/>
<rect x="413" y="330" width="1" height="21" fill="#000"/>
<rect x="411" y="334" width="5" height="4" fill="#000"/>
<rect x="421" y="327" width="1" height="12" fill="#000"/>
<rect x="419" y="328" width="5" height="9" fill="#000"/>
<rect x="429" y="333" width="1" height="53" fill="#000"/>
<rect x="427" y="336" width="5" height="5" fill="#000"/>
<rect x="437" y="337" width="1" height="16" fill="#000"/>
<rect x="435" y="340" width="5" height="8" fill="#000"/>
<rect x="445" y="335" width="1" height="26" fill="#000"/>
<rect x="443" y="341" width="5" height="7" fill="#000"/>
<rect x="444" y="342" width="3" height="5" fill="#fff"/>
<rect x="453" y="337" width="1" height="9" fill="#000"/>
<rect x="451" y="340" width="5" height="1" fill="#000"/>
<rect x="461" y="335" width="1" height="13" fill="#000"/>
<rect x="459" y="337" width="5" height="9" fill="#000"/>
<rect x="460" y="338" width="3" height="7" fill="#fff"/>
<rect x="469" y="321" width="1" height="19" fill="#000"/>
<rect x="467" y="324" width="5" height="14" fill="#000"/>
<rect x="468" y="325" width="3" height="12" fill="#fff"/>
<rect x="477" y="316" width="1" height="21" fill="#000"/>
<rect x="475" y="324" width="5" height="7" fill="#000"/>
<rect x="485" y="321" width="1" height="13" fill="#000"/>
<rect x="483" y="325" width="5" height="7" fill="#000"/>
<rect x="484" y="326" width="3" height="5" fill="#fff"/>
<rect x="493" y="315" width="1" height="18" fill="#000"/>
<rect x="491" y="317" width="5" height="9" fill="#000"/>
<rect x="492" y="318" width="3" height="7" fill="#fff"/>
<rect x="501" y="315" width="1" height="6" fill="#000"/>
<rect x="499" y="316" width="5" height="3" fill="#000"/>
<rect x="500" y="317" width="3" height="1" fill="#fff"/>
<rect x="509" y="305" width="1" height="55" fill="#000"/>
<rect x="507" y="316" width="5" height="24" fill="#000"/>
<rect x="517" y="323" width="1" height="25" fill="#000"/>
<rect x="515" y="331" width="5" height="9" fill="#000"/>
<rect x="516" y="332" width="3" height="7" fill="#fff"/>
<rect x="525" y="292" width="1" height="45" fill="#000"/>
<rect x="523" y="301" width="5" height="30" fill="#000"/>
<rect x="524" y="302" width="3" height="28" fill="#fff"/>
<rect x="533" y="282" width="1" height="24" fill="#000"/>
<rect x="531" y="290" width="5" height="12" fill="#000"/>
<rect x="532" y="291" width="3" height="10" fill="#fff"/>
<rect x="541" y="279" width="1" height="27" fill="#000"/>
<rect x="539" y="286" width="5" height="4" fill="#000"/>
<rect x="540" y="287" width="3" height="2" fill="#fff"/>
<rect x="549" y="286" width="1" height="8" fill="#000"/>
<rect x="547" y="289" width="5" height="4" fill="#000"/>
<rect x="557" y="288" width="1" height="21" fill="#000"/>
<rect x="555" y="291" width="5" height="1" fill="#000"/>
<rect x="565" y="287" width="1" height="14" fill="#000"/>
<rect x="563" y="288" width="5" height="4" fill="#000"/>
<rect x="564" y="289" width="3" height="2" fill="#fff"/>
<rect x="573" y="284" width="1" height="12" fill="#000"/>
<rect x="571" y="287" width="5" height="1" fill="#000"/>
<rect x="581" y="281" width="1" height="14" fill="#000"/>
<rect x="579" y="288" width="5" height="4" fill="#000"/>
<rect x="589" y="291" width="1" height="26" fill="#000"/>
<rect x="587" y="291" width="5" height="17" fill="#000"/>
<rect x="597" y="303" width="1" height="7" fill="#000"/>
<rect x="595" y="307" width="5" height="3" fill="#000"/>
<rect x="596" y="308" width="3" height="1" fill="#fff"/>
<rect x="605" y="300" width="1" height="11" fill="#000"/>
<rect x="603" y="300" width="5" height="8" fill="#000"/>
<rect x="604" y="301" width="3" height="6" fill="#fff"/>
<rect x="613" y="288" width="1" height="14" fill="#000"/>
<rect x="611" y="292" width="5" height="9" fill="#000"/>
<rect x="612" y="293" width="3" height="7" fill="#fff"/>
<rect x="621" y="279" width="1" height="22" fill="#000"/>
<rect x="619" y="281" width="5" height="12" fill="#000"/>
<rect x="620" y="282" width="3" height="10" fill="#fff"/>
<rect x="629" y="276" width="1" height="11" fill="#000"/>
<rect x="627" y="281" width="5" height="5" fill="#000"/>
<rect x="637" y="282" width="1" height="18" fill="#000"/>
<rect x="635" y="285" width="5" height="8" fill="#000"/>
<rect x="645" y="288" width="1" height="5" fill="#000"/>
<rect x="643" y="289" width="5" height="4" fill="#000"/>
<rect x="644" y="290" width="3" height="2" fill="#fff"/>
<rect x="653" y="287" width="1" height="33" fill="#000"/>
<rect x="651" y="289" width="5" height="9" fill="#000"/>
<rect x="661" y="286" width="1" height="21" fill="#000"/>
<rect x="659" y="296" width="5" height="1" fill="#000"/>
<rect x="669" y="295" width="1" height="54" fill="#000"/>
<rect x="667" y="296" width="5" height="51" fill="#000"/>
<rect x="677" y="296" width="1" height="52" fill="#000"/>
<rect x="675" y="320" width="5" height="27" fill="#000"/>
<rect x="676" y="321" width="3" height="25" fill="#fff"/>
<rect x="685" y="315" width="1" height="46" fill="#000"/>
<rect x="683" y="320" width="5" height="35" fill="#000"/>
<rect x="693" y="356" width="1" height="16" fill="#000"/>
<rect x="691" y="359" width="5" height="5" fill="#000"/>
<rect x="701" y="332" width="1" height="32" fill="#000"/>
<rect x="699" y="337" width="5" height="27" fill="#000"/>
<rect x="700" y="338" width="3" height="25" fill="#fff"/>
<rect x="709" y="303" width="1" height="39" fill="#000"/>
<rect x="707" y="309" width="5" height="29" fill="#000"/>
<rect x="708" y="310" width="3" height="27" fill="#fff"/>
<rect x="717" y="304" width="1" height="18" fill="#000"/>
<rect x="715" y="306" width="5" height="4" fill="#000"/>
<rect x="716" y="307" width="3" height="2" fill="#fff"/>
<rect x="725" y="288" width="1" height="27" fill="#000"/>
<rect x="723" y="289" width="5" height="18" fill="#000"/>
<rect x="724" y="290" width="3" height="16" fill="#fff"/>
<rect x="733" y="279" width="1" height="14" fill="#000"/>
<rect x="731" y="283" width="5" height="7" fill="#000"/>
<rect x="732" y="284" width="3" height="5" fill="#fff"/>
<rect x="741" y="278" width="1" height="7" fill="#000"/>
<rect x="739" y="280" width="5" height="3" fill="#000"/>
<rect x="749" y="269" width="1" height="16" fill="#000"/>
<rect x="747" y="271" width="5" height="13" fill="#000"/>
<rect x="748" y="272" width="3" height="11" fill="#fff"/>
<rect x="757" y="268" width="1" height="12" fill="#000"/>
<rect x="755" y="270" width="5" height="2" fill="#000"/>
<rect x="765" y="261" width="1" height="20" fill="#000"/>
<rect x="763" y="266" width="5" height="5" fill="#000"/>
<rect x="764" y="267" width="3" height="3" fill="#fff"/>
<rect x="773" y="260" width="1" height="18" fill="#000"/>
<rect x="771" y="265" width="5" height="1" fill="#000"/>
<rect x="781" y="263" width="1" height="13" fill="#000"/>
<rect x="779" y="263" width="5" height="4" fill="#000"/>
<rect x="780" y="264" width="3" height="2" fill="#fff"/>
<rect x="789" y="260" width="1" height="4" fill="#000"/>
<rect x="787" y="262" width="5" height="2" fill="#000"/>
<rect x="797" y="252" width="1" height="11" fill="#000"/>
<rect x="795" y="255" width="5" height="8" fill="#000"/>
<rect x="796" y="256" width="3" height="6" fill="#fff"/>
<rect x="805" y="249" width="1" height="17" fill="#000"/>
<rect x="803" y="254" width="5" height="10" fill="#000"/>
<rect x="813" y="253" width="1" height="19" fill="#000"/>
<rect x="811" y="253" width="5" height="10" fill="#000"/>
<rect x="812" y="254" width="3" height="8" fill="#fff"/>
<rect x="821" y="251" width="1" height="24" fill="#000"/>
<rect x="819" y="253" width="5" height="11" fill="#000"/>
<rect x="829" y="253" width="1" height="18" fill="#000"/>
<rect x="827" y="263" width="5" height="1" fill="#000"/>
<rect x="837" y="258" width="1" height="7" fill="#000"/>
<rect x="835" y="260" width="5" height="1" fill="#000"/>
<rect x="845" y="253" width="1" height="24" fill="#000"/>
<rect x="843" y="258" width="5" height="4" fill="#000"/>
<rect x="844" y="259" width="3" height="2" fill="#fff"/>
<rect x="853" y="252" width="1" height="30" fill="#000"/>
<rect x="851" y="258" width="5" height="3" fill="#000"/>
<rect x="861" y="228" width="1" height="42" fill="#000"/>
<rect x="859" y="228" width="5" height="33" fill="#000"/>
<rect x="860" y="229" width="3" height="31" fill="#fff"/>
<rect x="869" y="227" width="1" height="47" fill="#000"/>
<rect x="867" y="228" width="5" height="42" fill="#000"/>
<rect x="877" y="261" width="1" height="39" fill="#000"/>
<rect x="875" y="270" width="5" height="27" fill="#000"/>
<rect x="885" y="282" width="1" height="10" fill="#000"/>
<rect x="883" y="282" width="5" height="7" fill="#000"/>
<rect x="884" y="283" width="3" height="5" fill="#fff"/>
<rect x="893" y="250" width="1" height="34" fill="#000"/>
<rect x="891" y="255" width="5" height="28" fill="#000"/>
<rect x="892" y="256" width="3" height="26" fill="#fff"/>
<rect x="901" y="253" width="1" height="19" fill="#000"/>
<rect x="899" y="256" width="5" height="7" fill="#000"/>
<rect x="909" y="252" width="1" height="30" fill="#000"/>
<rect x="907" y="263" width="5" height="19" fill="#000"/>
<rect x="917" y="262" width="1" height="54" fill="#000"/>
<rect x="915" y="281" width="5" height="17" fill="#000"/>
<rect x="925" y="256" width="1" height="52" fill="#000"/>
<rect x="923" y="259" width="5" height="39" fill="#000"/>
<rect x="924" y="260" width="3" height="37" fill="#fff"/>
<rect x="933" y="246" width="1" height="8" fill="#000"/>
<rect x="931" y="251" width="5" height="2" fill="#000"/>
<rect x="941" y="223" width="1" height="49" fill="#000"/>
<rect x="939" y="233" width="5" height="19" fill="#000"/>
<rect x="940" y="234" width="3" height="17" fill="#fff"/>
<rect x="949" y="222" width="1" height="20" fill="#000"/>
<rect x="947" y="233" width="5" height="7" fill="#000"/>
<rect x="957" y="208" width="1" height="38" fill="#000"/>
<rect x="955" y="212" width="5" height="28" fill="#000"/>
<rect x="956" y="213" width="3" height="26" fill="#fff"/>
<rect x="965" y="192" width="1" height="23" fill="#000"/>
<rect x="963" y="199" width="5" height="14" fill="#000"/>
<rect x="964" y="200" width="3" height="12" fill="#fff"/>
<rect x="973" y="181" width="1" height="27" fill="#000"/>
<rect x="971" y="183" width="5" height="17" fill="#000"/>
<rect x="972" y="184" width="3" height="15" fill="#fff"/>
<rect x="981" y="176" width="1" height="5" fill="#000"/>
<rect x="979" y="177" width="5" height="4" fill="#000"/>
<rect x="980" y="178" width="3" height="2" fill="#fff"/>
<rect x="989" y="173" width="1" height="21" fill="#000"/>
<rect x="987" y="177" width="5" height="1" fill="#000"/>
<rect x="997" y="173" width="1" height="15" fill="#000"/>
<rect x="995" y="178" width="5" height="10" fill="#000"/>
<rect x="1005" y="171" width="1" height="20" fill="#000"/>
<rect x="1003" y="172" width="5" height="16" fill="#000"/>
<rect x="1004" y="173" width="3" height="14" fill="#fff"/>
<rect x="1013" y="164" width="1" height="24" fill="#000"/>
<rect x="1011" y="172" width="5" height="13" fill="#000"/>
<rect x="1021" y="179" width="1" height="28" fill="#000"/>
<rect x="1019" y="184" width="5" height="18" fill="#000"/>
<rect x="1029" y="200" width="1" height="4" fill="#000"/>
<rect x="1027" y="202" width="5" height="2" fill="#000"/>
<rect x="1037" y="189" width="1" height="23" fill="#000"/>
<rect x="1035" y="190" width="5" height="13" fill="#000"/>
<rect x="1036" y="191" width="3" height="11" fill="#fff"/>
<rect x="1045" y="189" width="1" height="28" fill="#000"/>
<rect x="1043" y="190" width="5" height="23" fill="#000"/>
<rect x="1053" y="190" width="1" height="27" fill="#000"/>
<rect x="1051" y="208" width="5" height="4" fill="#000"/>
<rect x="1052" y="209" width="3" height="2" fill="#fff"/>
<rect x="1061" y="195" width="1" height="38" fill="#000"/>
<rect x="1059" y="198" width="5" height="10" fill="#000"/>
<rect x="1060" y="199" width="3" height="8" fill="#fff"/>
<rect x="1069" y="172" width="1" height="29" fill="#000"/>
<rect x="1067" y="173" width="5" height="26" fill="#000"/>
<rect x="1068" y="174" width="3" height="24" fill="#fff"/>
<rect x="1077" y="176" width="1" height="3" fill="#000"/>
<rect x="1075" y="176" width="5" height="3" fill="#000"/>
<rect x="1085" y="163" width="1" height="24" fill="#000"/>
<rect x="1083" y="167" width="5" height="12" fill="#000"/>
<rect x="1084" y="168" width="3" height="10" fill="#fff"/>
<rect x="1093" y="164" width="1" height="16" fill="#000"/>
<rect x="1091" y="167" width="5" height="8" fill="#000"/>
<rect x="1101" y="169" width="1" height="11" fill="#000"/>
<rect x="1099" y="174" width="5" height="3" fill="#000"/>
<rect x="1109" y="168" width="1" height="13" fill="#000"/>
<rect x="1107" y="168" width="5" height="9" fill="#000"/>
<rect x="1108" y="169" width="3" height="7" fill="#fff"/>
<rect x="1117" y="156" width="1" height="6" fill="#000"/>
<rect x="1115" y="157" width="5" height="5" fill="#000"/>
<rect x="1116" y="158" width="3" height="3" fill="#fff"/>
<rect x="1125" y="142" width="1" height="19" fill="#000"/>
<rect x="1123" y="146" width="5" height="12" fill="#000"/>
<rect x="1124" y="147" width="3" height="10" fill="#fff"/>
<rect x="1133" y="146" width="1" height="11" fill="#000"/>
<rect x="1131" y="146" width="5" height="4" fill="#000"/>
<rect x="1141" y="147" width="1" height="11" fill="#000"/>
<rect x="1139" y="149" width="5" height="1" fill="#000"/>
<rect x="1149" y="144" width="1" height="15" fill="#000"/>
<rect x="1147" y="144" width="5" height="5" fill="#000"/>
<rect x="1148" y="145" width="3" height="3" fill="#fff"/>
<rect x="1157" y="131" width="1" height="19" fill="#000"/>
<rect x="1155" y="134" width="5" height="11" fill="#000"/>
<rect x="1156" y="135" width="3" height="9" fill="#fff"/>
<rect x="1165" y="132" width="1" height="3" fill="#000"/>
<rect x="1163" y="132" width="5" height="3" fill="#000"/>
<rect x="1173" y="132" width="1" height="8" fill="#000"/>
<rect x="1171" y="134" width="5" height="1" fill="#000"/>
<rect x="1181" y="130" width="1" height="17" fill="#000"/>
<rect x="1179" y="134" width="5" height="7" fill="#000"/>
<rect x="1189" y="125" width="1" height="17" fill="#000"/>
<rect x="1187" y="132" width="5" height="9" fill="#000"/>
<rect x="1188" y="133" width="3" height="7" fill="#fff"/>
<rect x="1197" y="115" width="1" height="18" fill="#000"/>
<rect x="1195" y="117" width="5" height="16" fill="#000"/>
<rect x="1196" y="118" width="3" height="14" fill="#fff"/>
<rect x="1205" y="105" width="1" height="16" fill="#000"/>
<rect x="1203" y="109" width="5" height="9" fill="#000"/>
<rect x="1204" y="110" width="3" height="7" fill="#fff"/>
<rect x="1213" y="111" width="1" height="4" fill="#000"/>
<rect x="1211" y="111" width="5" height="4" fill="#000"/>
<rect x="1221" y="110" width="1" height="12" fill="#000"/>
<rect x="1219" y="111" width="5" height="4" fill="#000"/>
<rect x="1220" y="112" width="3" height="2" fill="#fff"/>
<rect x="1229" y="109" width="1" height="30" fill="#000"/>
<rect x="1227" y="111" width="5" height="20" fill="#000"/>
<rect x="1237" y="111" width="1" height="25" fill="#000"/>
<rect x="1235" y="115" width="5" height="15" fill="#000"/>
<rect x="1236" y="116" width="3" height="13" fill="#fff"/>
<rect x="1245" y="111" width="1" height="26" fill="#000"/>
<rect x="1243" y="115" width="5" height="15" fill="#000"/>
<rect x="1253" y="110" width="1" height="26" fill="#000"/>
<rect x="1251" y="118" width="5" height="11" fill="#000"/>
<rect x="1252" y="119" width="3" height="9" fill="#fff"/>
<rect x="1261" y="116" width="1" height="4" fill="#000"/>
<rect x="1259" y="117" width="5" height="1" fill="#000"/>
<rect x="1269" y="110" width="1" height="14" fill="#000"/>
<rect x="1267" y="118" width="5" height="2" fill="#000"/>
<rect x="1277" y="115" width="1" height="13" fill="#000"/>
<rect x="1275" y="119" width="5" height="6" fill="#000"/>
<rect x="1285" y="121" width="1" height="11" fill="#000"/>
<rect x="1283" y="124" width="5" height="4" fill="#000"/>
<rect x="1293" y="114" width="1" height="21" fill="#000"/>
<rect x="1291" y="118" width="5" height="11" fill="#000"/>
<rect x="1292" y="119" width="3" height="9" fill="#fff"/>
<rect x="1301" y="116" width="1" height="17" fill="#000"/>
<rect x="1299" y="118" width="5" height="7" fill="#000"/>
<rect x="1309" y="120" width="1" height="3" fill="#000"/>
<rect x="1307" y="120" width="5" height="2" fill="#000"/>
<rect x="1317" y="106" width="1" height="17" fill="#000"/>
<rect x="1315" y="113" width="5" height="8" fill="#000"/>
<rect x="1316" y="114" width="3" height="6" fill="#fff"/>
<rect x="1325" y="108" width="1" height="26" fill="#000"/>
<rect x="1323" y="110" width="5" height="3" fill="#000"/>
<rect x="1333" y="100" width="1" height="18" fill="#000"/>
<rect x="1331" y="106" width="5" height="1" fill="#000"/>
<rect x="1341" y="87" width="1" height="20" fill="#000"/>
<rect x="1339" y="88" width="5" height="18" fill="#000"/>
<rect x="1340" y="89" width="3" height="16" fill="#fff"/>
<rect x="1349" y="71" width="1" height="21" fill="#000"/>
<rect x="1347" y="72" width="5" height="17" fill="#000"/>
<rect x="1348" y="73" width="3" height="15" fill="#fff"/>
<rect x="1357" y="70" width="1" height="3" fill="#000"/>
<rect x="1355" y="70" width="5" height="2" fill="#000"/>
<rect x="1365" y="54" width="1" height="19" fill="#000"/>
<rect x="1363" y="70" width="5" height="3" fill="#000"/>
<rect x="1373" y="71" width="1" height="30" fill="#000"/>
<rect x="1371" y="72" width="5" height="29" fill="#000"/>
<rect x="1381" y="100" width="1" height="45" fill="#000"/>
<rect x="1379" y="101" width="5" height="37" fill="#000"/>
<rect x="1389" y="106" width="1" height="55" fill="#000"/>
<rect x="1387" y="108" width="5" height="30" fill="#000"/>
<rect x="1388" y="109" width="3" height="28" fill="#fff"/>
<rect x="1397" y="91" width="1" height="25" fill="#000"/>
<rect x="1395" y="93" width="5" height="16" fill="#000"/>
<rect x="1396" y="94" width="3" height="14" fill="#fff"/>
<rect x="1405" y="93" width="1" height="3" fill="#000"/>
<rect x="1403" y="93" width="5" height="2" fill="#000"/>
<rect x="1413" y="93" width="1" height="16" fill="#000"/>
<rect x="1411" y="93" width="5" height="2" fill="#000"/>
<rect x="1421" y="88" width="1" height="33" fill="#000"/>
<rect x="1419" y="101" width="5" height="20" fill="#000"/>
<rect x="1429" y="113" width="1" height="35" fill="#000"/>
<rect x="1427" y="119" width="5" height="7" fill="#000"/>
<polyline points="1488.90,79.60 1481.10,86.30" fill="none" stroke="#00ff00" stroke-width="1.15" stroke-linecap="round" stroke-linejoin="round"/><polyline points="1486.70,82.60 1496.10,81.50 1481.80,89.70" fill="none" stroke="#00ff00" stroke-width="1.15" stroke-linecap="round" stroke-linejoin="round"/><polyline points="1486.30,83.40 1488.30,85.40" fill="none" stroke="#00ff00" stroke-width="1.15" stroke-linecap="round" stroke-linejoin="round"/><polyline points="1489.70,88.20 1481.10,94.20" fill="none" stroke="#00ff00" stroke-width="1.15" stroke-linecap="round" stroke-linejoin="round"/><polyline points="1485.60,90.10 1497.20,89.70 1480.30,98.00" fill="none" stroke="#00ff00" stroke-width="1.15" stroke-linecap="round" stroke-linejoin="round"/><polyline points="1486.30,91.60 1488.20,93.50" fill="none" stroke="#00ff00" stroke-width="1.15" stroke-linecap="round" stroke-linejoin="round"/><polyline points="1509.60,79.60 1511.50,81.50" fill="none" stroke="#00ff00" stroke-width="1.15" stroke-linecap="round" stroke-linejoin="round"/><polyline points="1502.90,86.30 1502.90,83.00 1519.40,82.60 1518.60,84.80" fill="none" stroke="#00ff00" stroke-width="1.15" stroke-linecap="round" stroke-linejoin="round"/><polyline points="1507.40,84.80 1503.20,89.00" fill="none" stroke="#00ff00" stroke-width="1.15" stroke-linecap="round" stroke-linejoin="round"/><polyline points="1513.80,84.80 1518.60,87.80" fill="none" stroke="#00ff00" stroke-width="1.15" stroke-linecap="round" stroke-linejoin="round"/><polyline points="1505.90,89.00 1516.40,88.60" fill="none" stroke="#00ff00" stroke-width="1.15" stroke-linecap="round" stroke-linejoin="round"/><polyline points="1511.10,89.00 1511.10,96.50" fill="none" stroke="#00ff00" stroke-width="1.15" stroke-linecap="round" stroke-linejoin="round"/><polyline points="1502.10,96.50 1520.10,96.50" fill="none" stroke="#00ff00" stroke-width="1.15" stroke-linecap="round" stroke-linejoin="round"/><polyline points="1524.30,82.20 1529.90,82.20" fill="none" stroke="#00ff00" stroke-width="1.15" stroke-linecap="round" stroke-linejoin="round"/><polyline points="1527.60,79.60 1524.60,87.80 1529.90,86.70" fill="none" stroke="#00ff00" stroke-width="1.15" stroke-linecap="round" stroke-linejoin="round"/><polyline points="1527.80,84.10 1528.00,98.00" fill="none" stroke="#00ff00" stroke-width="1.15" stroke-linecap="round" stroke-linejoin="round"/><polyline points="1523.50,93.50 1530.60,91.20" fill="none" stroke="#00ff00" stroke-width="1.15" stroke-linecap="round" stroke-linejoin="round"/><polyline points="1532.10,83.30 1541.50,82.60" fill="none" stroke="#00ff00" stroke-width="1.15" stroke-linecap="round" stroke-linejoin="round"/><polyline points="1536.30,79.60 1534.80,88.20" fill="none" stroke="#00ff00" stroke-width="1.15" stroke-linecap="round" stroke-linejoin="round"/><polyline points="1532.90,86.30 1541.90,86.30" fill="none" stroke="#00ff00" stroke-width="1.15" stroke-linecap="round" stroke-linejoin="round"/><polyline points="1534.80,88.20 1539.30,90.90 1534.40,92.70 1538.90,97.20" fill="none" stroke="#00ff00" stroke-width="1.15" stroke-linecap="round" stroke-linejoin="round"/><polyline points="1545.50,85.20 1551.50,84.50" fill="none" stroke="#00ff00" stroke-width="1.15" stroke-linecap="round" stroke-linejoin="round"/><polyline points="1549.60,79.60 1549.60,97.60 1547.00,97.20" fill="none" stroke="#00ff00" stroke-width="1.15" stroke-linecap="round" stroke-linejoin="round"/><polyline points="1545.90,90.90 1551.90,88.60" fill="none" stroke="#00ff00" stroke-width="1.15" stroke-linecap="round" stroke-linejoin="round"/><polyline points="1563.20,80.00 1556.00,81.80" fill="none" stroke="#00ff00" stroke-width="1.15" stroke-linecap="round" stroke-linejoin="round"/><polyline points="1556.00,81.80 1556.00,90.50 1553.80,98.00" fill="none" stroke="#00ff00" stroke-width="1.15" stroke-linecap="round" stroke-linejoin="round"/><polyline points="1556.00,86.30 1564.30,86.30" fill="none" stroke="#00ff00" stroke-width="1.15" stroke-linecap="round" stroke-linejoin="round"/><polyline points="1559.80,86.30 1559.80,98.00" fill="none" stroke="#00ff00" stroke-width="1.15" stroke-linecap="round" stroke-linejoin="round"/><polyline points="1577.20,79.60 1577.20,86.30" fill="none" stroke="#00ff00" stroke-width="1.15" stroke-linecap="round" stroke-linejoin="round"/><polyline points="1577.20,82.20 1585.10,82.20" fill="none" stroke="#00ff00" stroke-width="1.15" stroke-linecap="round" stroke-linejoin="round"/><polyline points="1571.20,86.30 1583.20,86.30 1583.20,91.20 1571.20,91.20 1571.20,86.30" fill="none" stroke="#00ff00" stroke-width="1.15" stroke-linecap="round" stroke-linejoin="round"/><polyline points="1569.70,95.00 1568.60,97.60" fill="none" stroke="#00ff00" stroke-width="1.15" stroke-linecap="round" stroke-linejoin="round"/><polyline points="1573.80,94.20 1575.00,96.90" fill="none" stroke="#00ff00" stroke-width="1.15" stroke-linecap="round" stroke-linejoin="round"/><polyline points="1578.00,94.20 1579.50,96.90" fill="none" stroke="#00ff00" stroke-width="1.15" stroke-linecap="round" stroke-linejoin="round"/><polyline points="1582.50,93.90 1585.10,97.20" fill="none" stroke="#00ff00" stroke-width="1.15" stroke-linecap="round" stroke-linejoin="round"/>
<rect x="1299" y="107" width="180" height="8" fill="#00ff00"/>
<g shape-rendering="crispEdges">
<line x1="1061" y1="223.5" x2="1357.8" y2="58.2" stroke="#ff0000" stroke-width="3.2"/><line x1="1358.3" y1="57.9" x2="1348.0" y2="57.9" stroke="#ff0000" stroke-width="3.2" stroke-linecap="square"/><line x1="1358.3" y1="57.9" x2="1353.0" y2="66.7" stroke="#ff0000" stroke-width="3.2" stroke-linecap="square"/><polygon points="1360.0,57.0 1348.0,57.9 1352.1,61.4 1353.0,66.7" fill="#ff0000"/>
<line x1="1359" y1="55" x2="1387.7" y2="152.4" stroke="#ff0000" stroke-width="3.4"/><line x1="1387.9" y1="153.0" x2="1390.3" y2="143.1" stroke="#ff0000" stroke-width="3.4" stroke-linecap="square"/><line x1="1387.9" y1="153.0" x2="1380.6" y2="146.0" stroke="#ff0000" stroke-width="3.4" stroke-linecap="square"/><polygon points="1388.5,155.0 1390.3,143.1 1386.0,146.4 1380.6,146.0" fill="#ff0000"/>
<line x1="1388.5" y1="155" x2="1420.3" y2="91.4" stroke="#ff0000" stroke-width="3.4"/><line x1="1420.6" y1="90.8" x2="1412.1" y2="96.5" stroke="#ff0000" stroke-width="3.4" stroke-linecap="square"/><line x1="1420.6" y1="90.8" x2="1421.2" y2="101.0" stroke="#ff0000" stroke-width="3.4" stroke-linecap="square"/><polygon points="1421.5,89.0 1412.1,96.5 1417.5,97.0 1421.2,101.0" fill="#ff0000"/>
<line x1="1421.5" y1="89" x2="1442.8" y2="172.4" stroke="#ff0000" stroke-width="3.4"/><line x1="1443.0" y1="173.0" x2="1445.7" y2="163.2" stroke="#ff0000" stroke-width="3.4" stroke-linecap="square"/><line x1="1443.0" y1="173.0" x2="1435.9" y2="165.7" stroke="#ff0000" stroke-width="3.4" stroke-linecap="square"/><polygon points="1443.5,175.0 1445.7,163.2 1441.3,166.3 1435.9,165.7" fill="#ff0000"/>
<line x1="1232" y1="629" x2="1436.1" y2="660.6" stroke="#ff0000" stroke-width="3.0"/><line x1="1436.7" y1="660.7" x2="1429.4" y2="654.9" stroke="#ff0000" stroke-width="3.0" stroke-linecap="square"/><line x1="1436.7" y1="660.7" x2="1427.9" y2="664.1" stroke="#ff0000" stroke-width="3.0" stroke-linecap="square"/><polygon points="1438.5,661.0 1429.4,654.9 1430.3,659.7 1427.9,664.1" fill="#ff0000"/>
<line x1="1359" y1="797" x2="1438.2" y2="846.1" stroke="#ff0000" stroke-width="3.4"/><line x1="1438.8" y1="846.4" x2="1433.9" y2="837.5" stroke="#ff0000" stroke-width="3.4" stroke-linecap="square"/><line x1="1438.8" y1="846.4" x2="1428.6" y2="846.1" stroke="#ff0000" stroke-width="3.4" stroke-linecap="square"/><polygon points="1440.5,847.5 1433.9,837.5 1432.8,842.8 1428.6,846.1" fill="#ff0000"/>
</g>
<defs>
<linearGradient id="rg" x1="0" y1="0" x2="0" y2="1"><stop offset="0" stop-color="#f85454"/><stop offset="1" stop-color="#c81414"/></linearGradient>
<linearGradient id="rg2" x1="0" y1="0" x2="0" y2="1"><stop offset="0" stop-color="#e02a2a"/><stop offset="1" stop-color="#b00606"/></linearGradient>
<linearGradient id="bg1" x1="0" y1="0" x2="0" y2="1"><stop offset="0" stop-color="#f2f2f2"/><stop offset="0.45" stop-color="#e6e6e6"/><stop offset="0.5" stop-color="#d8d8d8"/><stop offset="1" stop-color="#d0d0d0"/></linearGradient>
</defs>
<rect x="0" y="46" width="221" height="59" fill="#fff"/>
<rect x="0.5" y="47.5" width="51" height="56" fill="url(#rg)" stroke="#b00000"/>
<rect x="167.5" y="47.5" width="51" height="56" fill="url(#rg)" stroke="#b00000"/>
<rect x="0.5" y="71.5" width="108" height="32" fill="url(#rg2)" stroke="#b00000"/>
<rect x="110.5" y="71.5" width="108" height="32" fill="url(#rg2)" stroke="#b00000"/>
<rect x="1" y="72" width="50" height="1" fill="#e83030"/><rect x="168" y="72" width="50" height="1" fill="#e83030"/>
<rect x="4" y="69" width="44" height="1.5" fill="#8a0000"/><rect x="4" y="70.5" width="44" height="1.2" fill="#ff8080"/>
<rect x="171" y="69" width="44" height="1.5" fill="#8a0000"/><rect x="171" y="70.5" width="44" height="1.2" fill="#ff8080"/>
<rect x="54.5" y="47.5" width="110" height="21" fill="#fff" stroke="#a4a8b0" shape-rendering="crispEdges"/>
<rect x="56" y="49" width="19" height="19" fill="url(#bg1)"/><rect x="75" y="48" width="1" height="20" fill="#c0c4cc"/>
<rect x="145" y="49" width="19" height="19" fill="url(#bg1)"/><rect x="144" y="48" width="1" height="20" fill="#c0c4cc"/>
<polygon points="62,56 67,56 64.5,59" fill="#4a5ab8"/><polygon points="151,59 156,59 153.5,56" fill="#4a5ab8"/>
<text transform="translate(139.5,62) scale(0.99,1)" x="0" y="0" text-anchor="end" style="font-size:12px;font-weight:normal;fill:#000;white-space:pre">1.00</text>
<text transform="translate(25,63) scale(0.885,1)" x="0" y="0" text-anchor="middle" style="font-size:12px;font-weight:normal;fill:#fff;white-space:pre">SELL</text>
<text transform="translate(192,63) scale(0.915,1)" x="0" y="0" text-anchor="middle" style="font-size:12px;font-weight:normal;fill:#fff;white-space:pre">BUY</text>
<text transform="translate(16.5,98.5) scale(1.02,1)" x="0" y="0" text-anchor="start" style="font-size:12px;font-weight:bold;fill:#fff;white-space:pre">33779</text>
<circle cx="57" cy="96.5" r="2.1" fill="#fff"/>
<text transform="translate(62.5,98.5) scale(0.77,1)" x="0" y="0" text-anchor="start" style="font-size:32.5px;font-weight:normal;fill:#fff;white-space:pre">5</text>
<text transform="translate(126.5,98.5) scale(1.02,1)" x="0" y="0" text-anchor="start" style="font-size:12px;font-weight:bold;fill:#fff;white-space:pre">33793</text>
<circle cx="168" cy="96.5" r="2.1" fill="#fff"/>
<text transform="translate(172.5,98.5) scale(0.77,1)" x="0" y="0" text-anchor="start" style="font-size:32.5px;font-weight:normal;fill:#fff;white-space:pre">5</text>
<rect x="5" y="656" width="1" height="31" fill="#c0c0c0"/>
<rect x="13" y="662" width="1" height="25" fill="#c0c0c0"/>
<rect x="21" y="663" width="1" height="24" fill="#c0c0c0"/>
<rect x="29" y="666" width="1" height="21" fill="#c0c0c0"/>
<rect x="37" y="669" width="1" height="18" fill="#c0c0c0"/>
<rect x="45" y="679" width="1" height="8" fill="#c0c0c0"/>
<rect x="53" y="686" width="1" height="5" fill="#c0c0c0"/>
<rect x="61" y="686" width="1" height="23" fill="#c0c0c0"/>
<rect x="69" y="686" width="1" height="38" fill="#c0c0c0"/>
<rect x="77" y="686" width="1" height="49" fill="#c0c0c0"/>
<rect x="85" y="686" width="1" height="59" fill="#c0c0c0"/>
<rect x="93" y="686" width="1" height="59" fill="#c0c0c0"/>
<rect x="101" y="686" width="1" height="50" fill="#c0c0c0"/>
<rect x="109" y="686" width="1" height="40" fill="#c0c0c0"/>
<rect x="117" y="686" width="1" height="26" fill="#c0c0c0"/>
<rect x="125" y="686" width="1" height="14" fill="#c0c0c0"/>
<rect x="133" y="686" width="1" height="2" fill="#c0c0c0"/>
<rect x="141" y="670" width="1" height="17" fill="#c0c0c0"/>
<rect x="149" y="654" width="1" height="33" fill="#c0c0c0"/>
<rect x="157" y="642" width="1" height="45" fill="#c0c0c0"/>
<rect x="165" y="636" width="1" height="51" fill="#c0c0c0"/>
<rect x="173" y="628" width="1" height="59" fill="#c0c0c0"/>
<rect x="181" y="619" width="1" height="68" fill="#c0c0c0"/>
<rect x="189" y="610" width="1" height="77" fill="#c0c0c0"/>
<rect x="197" y="605" width="1" height="82" fill="#c0c0c0"/>
<rect x="205" y="607" width="1" height="80" fill="#c0c0c0"/>
<rect x="213" y="611" width="1" height="76" fill="#c0c0c0"/>
<rect x="221" y="617" width="1" height="70" fill="#c0c0c0"/>
<rect x="229" y="620" width="1" height="67" fill="#c0c0c0"/>
<rect x="237" y="618" width="1" height="69" fill="#c0c0c0"/>
<rect x="245" y="613" width="1" height="74" fill="#c0c0c0"/>
<rect x="253" y="612" width="1" height="75" fill="#c0c0c0"/>
<rect x="261" y="613" width="1" height="74" fill="#c0c0c0"/>
<rect x="269" y="613" width="1" height="74" fill="#c0c0c0"/>
<rect x="277" y="614" width="1" height="73" fill="#c0c0c0"/>
<rect x="285" y="618" width="1" height="69" fill="#c0c0c0"/>
<rect x="293" y="621" width="1" height="66" fill="#c0c0c0"/>
<rect x="301" y="623" width="1" height="64" fill="#c0c0c0"/>
<rect x="309" y="624" width="1" height="63" fill="#c0c0c0"/>
<rect x="317" y="623" width="1" height="64" fill="#c0c0c0"/>
<rect x="325" y="622" width="1" height="65" fill="#c0c0c0"/>
<rect x="333" y="625" width="1" height="62" fill="#c0c0c0"/>
<rect x="341" y="626" width="1" height="61" fill="#c0c0c0"/>
<rect x="349" y="628" width="1" height="59" fill="#c0c0c0"/>
<rect x="357" y="631" width="1" height="56" fill="#c0c0c0"/>
<rect x="365" y="634" width="1" height="53" fill="#c0c0c0"/>
<rect x="373" y="636" width="1" height="51" fill="#c0c0c0"/>
<rect x="381" y="640" width="1" height="47" fill="#c0c0c0"/>
<rect x="389" y="642" width="1" height="45" fill="#c0c0c0"/>
<rect x="397" y="644" width="1" height="43" fill="#c0c0c0"/>
<rect x="405" y="645" width="1" height="42" fill="#c0c0c0"/>
<rect x="413" y="647" width="1" height="40" fill="#c0c0c0"/>
<rect x="421" y="649" width="1" height="38" fill="#c0c0c0"/>
<rect x="429" y="652" width="1" height="35" fill="#c0c0c0"/>
<rect x="437" y="656" width="1" height="31" fill="#c0c0c0"/>
<rect x="445" y="658" width="1" height="29" fill="#c0c0c0"/>
<rect x="453" y="660" width="1" height="27" fill="#c0c0c0"/>
<rect x="461" y="661" width="1" height="26" fill="#c0c0c0"/>
<rect x="469" y="659" width="1" height="28" fill="#c0c0c0"/>
<rect x="477" y="659" width="1" height="28" fill="#c0c0c0"/>
<rect x="485" y="659" width="1" height="28" fill="#c0c0c0"/>
<rect x="493" y="657" width="1" height="30" fill="#c0c0c0"/>
<rect x="501" y="656" width="1" height="31" fill="#c0c0c0"/>
<rect x="509" y="660" width="1" height="27" fill="#c0c0c0"/>
<rect x="517" y="662" width="1" height="25" fill="#c0c0c0"/>
<rect x="525" y="657" width="1" height="30" fill="#c0c0c0"/>
<rect x="533" y="651" width="1" height="36" fill="#c0c0c0"/>
<rect x="541" y="647" width="1" height="40" fill="#c0c0c0"/>
<rect x="549" y="645" width="1" height="42" fill="#c0c0c0"/>
<rect x="557" y="643" width="1" height="44" fill="#c0c0c0"/>
<rect x="565" y="642" width="1" height="45" fill="#c0c0c0"/>
<rect x="573" y="641" width="1" height="46" fill="#c0c0c0"/>
<rect x="581" y="642" width="1" height="45" fill="#c0c0c0"/>
<rect x="589" y="647" width="1" height="40" fill="#c0c0c0"/>
<rect x="597" y="651" width="1" height="36" fill="#c0c0c0"/>
<rect x="605" y="653" width="1" height="34" fill="#c0c0c0"/>
<rect x="613" y="653" width="1" height="34" fill="#c0c0c0"/>
<rect x="621" y="651" width="1" height="36" fill="#c0c0c0"/>
<rect x="629" y="651" width="1" height="36" fill="#c0c0c0"/>
<rect x="637" y="653" width="1" height="34" fill="#c0c0c0"/>
<rect x="645" y="654" width="1" height="33" fill="#c0c0c0"/>
<rect x="653" y="657" width="1" height="30" fill="#c0c0c0"/>
<rect x="661" y="660" width="1" height="27" fill="#c0c0c0"/>
<rect x="669" y="672" width="1" height="15" fill="#c0c0c0"/>
<rect x="677" y="677" width="1" height="10" fill="#c0c0c0"/>
<rect x="685" y="686" width="1" height="3" fill="#c0c0c0"/>
<rect x="693" y="686" width="1" height="14" fill="#c0c0c0"/>
<rect x="701" y="686" width="1" height="16" fill="#c0c0c0"/>
<rect x="709" y="686" width="1" height="12" fill="#c0c0c0"/>
<rect x="717" y="686" width="1" height="8" fill="#c0c0c0"/>
<rect x="733" y="680" width="1" height="7" fill="#c0c0c0"/>
<rect x="741" y="674" width="1" height="13" fill="#c0c0c0"/>
<rect x="749" y="668" width="1" height="19" fill="#c0c0c0"/>
<rect x="757" y="663" width="1" height="24" fill="#c0c0c0"/>
<rect x="765" y="658" width="1" height="29" fill="#c0c0c0"/>
<rect x="773" y="655" width="1" height="32" fill="#c0c0c0"/>
<rect x="781" y="652" width="1" height="35" fill="#c0c0c0"/>
<rect x="789" y="650" width="1" height="37" fill="#c0c0c0"/>
<rect x="797" y="648" width="1" height="39" fill="#c0c0c0"/>
<rect x="805" y="648" width="1" height="39" fill="#c0c0c0"/>
<rect x="813" y="646" width="1" height="41" fill="#c0c0c0"/>
<rect x="821" y="647" width="1" height="40" fill="#c0c0c0"/>
<rect x="829" y="649" width="1" height="38" fill="#c0c0c0"/>
<rect x="837" y="650" width="1" height="37" fill="#c0c0c0"/>
<rect x="845" y="650" width="1" height="37" fill="#c0c0c0"/>
<rect x="853" y="652" width="1" height="35" fill="#c0c0c0"/>
<rect x="861" y="646" width="1" height="41" fill="#c0c0c0"/>
<rect x="869" y="651" width="1" height="36" fill="#c0c0c0"/>
<rect x="877" y="661" width="1" height="26" fill="#c0c0c0"/>
<rect x="885" y="667" width="1" height="20" fill="#c0c0c0"/>
<rect x="893" y="665" width="1" height="22" fill="#c0c0c0"/>
<rect x="901" y="666" width="1" height="21" fill="#c0c0c0"/>
<rect x="909" y="670" width="1" height="17" fill="#c0c0c0"/>
<rect x="917" y="678" width="1" height="9" fill="#c0c0c0"/>
<rect x="925" y="675" width="1" height="12" fill="#c0c0c0"/>
<rect x="933" y="672" width="1" height="15" fill="#c0c0c0"/>
<rect x="941" y="666" width="1" height="21" fill="#c0c0c0"/>
<rect x="949" y="662" width="1" height="25" fill="#c0c0c0"/>
<rect x="957" y="654" width="1" height="33" fill="#c0c0c0"/>
<rect x="965" y="645" width="1" height="42" fill="#c0c0c0"/>
<rect x="973" y="635" width="1" height="52" fill="#c0c0c0"/>
<rect x="981" y="627" width="1" height="60" fill="#c0c0c0"/>
<rect x="989" y="621" width="1" height="66" fill="#c0c0c0"/>
<rect x="997" y="619" width="1" height="68" fill="#c0c0c0"/>
<rect x="1005" y="615" width="1" height="72" fill="#c0c0c0"/>
<rect x="1013" y="616" width="1" height="71" fill="#c0c0c0"/>
<rect x="1021" y="621" width="1" height="66" fill="#c0c0c0"/>
<rect x="1029" y="625" width="1" height="62" fill="#c0c0c0"/>
<rect x="1037" y="627" width="1" height="60" fill="#c0c0c0"/>
<rect x="1045" y="634" width="1" height="53" fill="#c0c0c0"/>
<rect x="1053" y="639" width="1" height="48" fill="#c0c0c0"/>
<rect x="1061" y="641" width="1" height="46" fill="#c0c0c0"/>
<rect x="1069" y="638" width="1" height="49" fill="#c0c0c0"/>
<rect x="1077" y="637" width="1" height="50" fill="#c0c0c0"/>
<rect x="1085" y="635" width="1" height="52" fill="#c0c0c0"/>
<rect x="1093" y="635" width="1" height="52" fill="#c0c0c0"/>
<rect x="1101" y="636" width="1" height="51" fill="#c0c0c0"/>
<rect x="1109" y="636" width="1" height="51" fill="#c0c0c0"/>
<rect x="1117" y="634" width="1" height="53" fill="#c0c0c0"/>
<rect x="1125" y="631" width="1" height="56" fill="#c0c0c0"/>
<rect x="1133" y="630" width="1" height="57" fill="#c0c0c0"/>
<rect x="1141" y="629" width="1" height="58" fill="#c0c0c0"/>
<rect x="1149" y="629" width="1" height="58" fill="#c0c0c0"/>
<rect x="1157" y="627" width="1" height="60" fill="#c0c0c0"/>
<rect x="1165" y="626" width="1" height="61" fill="#c0c0c0"/>
<rect x="1173" y="626" width="1" height="61" fill="#c0c0c0"/>
<rect x="1181" y="628" width="1" height="59" fill="#c0c0c0"/>
<rect x="1189" y="628" width="1" height="59" fill="#c0c0c0"/>
<rect x="1197" y="626" width="1" height="61" fill="#c0c0c0"/>
<rect x="1205" y="623" width="1" height="64" fill="#c0c0c0"/>
<rect x="1213" y="623" width="1" height="64" fill="#c0c0c0"/>
<rect x="1221" y="623" width="1" height="64" fill="#c0c0c0"/>
<rect x="1229" y="627" width="1" height="60" fill="#c0c0c0"/>
<rect x="1237" y="628" width="1" height="59" fill="#c0c0c0"/>
<rect x="1245" y="633" width="1" height="54" fill="#c0c0c0"/>
<rect x="1253" y="635" width="1" height="52" fill="#c0c0c0"/>
<rect x="1261" y="636" width="1" height="51" fill="#c0c0c0"/>
<rect x="1269" y="639" width="1" height="48" fill="#c0c0c0"/>
<rect x="1277" y="642" width="1" height="45" fill="#c0c0c0"/>
<rect x="1285" y="646" width="1" height="41" fill="#c0c0c0"/>
<rect x="1293" y="648" width="1" height="39" fill="#c0c0c0"/>
<rect x="1301" y="651" width="1" height="36" fill="#c0c0c0"/>
<rect x="1309" y="653" width="1" height="34" fill="#c0c0c0"/>
<rect x="1317" y="653" width="1" height="34" fill="#c0c0c0"/>
<rect x="1325" y="653" width="1" height="34" fill="#c0c0c0"/>
<rect x="1333" y="653" width="1" height="34" fill="#c0c0c0"/>
<rect x="1341" y="649" width="1" height="38" fill="#c0c0c0"/>
<rect x="1349" y="643" width="1" height="44" fill="#c0c0c0"/>
<rect x="1357" y="638" width="1" height="49" fill="#c0c0c0"/>
<rect x="1365" y="636" width="1" height="51" fill="#c0c0c0"/>
<rect x="1373" y="640" width="1" height="47" fill="#c0c0c0"/>
<rect x="1381" y="652" width="1" height="35" fill="#c0c0c0"/>
<rect x="1389" y="655" width="1" height="32" fill="#c0c0c0"/>
<rect x="1397" y="655" width="1" height="32" fill="#c0c0c0"/>
<rect x="1405" y="656" width="1" height="31" fill="#c0c0c0"/>
<rect x="1413" y="656" width="1" height="31" fill="#c0c0c0"/>
<rect x="1421" y="663" width="1" height="24" fill="#c0c0c0"/>
<rect x="1429" y="669" width="1" height="18" fill="#c0c0c0"/>
<polyline points="2.0,651.5 5.5,651.5 13.5,651.5 21.5,652.5 29.5,654.5 37.5,657.5 45.5,660.5 53.5,665.5 61.5,672.5 69.5,680.5 77.5,688.5 85.5,697.5 93.5,706.5 101.5,714.5 109.5,720.5 117.5,724.5 125.5,725.5 133.5,722.5 141.5,716.5 149.5,708.5 157.5,696.5 165.5,684.5 173.5,672.5 181.5,660.5 189.5,649.5 197.5,639.5 205.5,630.5 213.5,623.5 221.5,619.5 229.5,617.5 237.5,615.5 245.5,613.5 253.5,613.5 261.5,613.5 269.5,614.5 277.5,615.5 285.5,615.5 293.5,616.5 301.5,616.5 309.5,617.5 317.5,618.5 325.5,619.5 333.5,621.5 341.5,622.5 349.5,624.5 357.5,625.5 365.5,627.5 373.5,628.5 381.5,630.5 389.5,632.5 397.5,634.5 405.5,636.5 413.5,639.5 421.5,641.5 429.5,643.5 437.5,646.5 445.5,648.5 453.5,650.5 461.5,652.5 469.5,654.5 477.5,656.5 485.5,657.5 493.5,658.5 501.5,658.5 509.5,659.5 517.5,659.5 525.5,659.5 533.5,658.5 541.5,656.5 549.5,655.5 557.5,653.5 565.5,651.5 573.5,650.5 581.5,648.5 589.5,646.5 597.5,645.5 605.5,645.5 613.5,646.5 621.5,647.5 629.5,648.5 637.5,649.5 645.5,651.5 653.5,652.5 661.5,654.5 669.5,656.5 677.5,659.5 685.5,663.5 693.5,668.5 701.5,673.5 709.5,678.5 717.5,683.5 725.5,686.5 733.5,688.5 741.5,688.5 749.5,687.5 757.5,685.5 765.5,680.5 773.5,675.5 781.5,670.5 789.5,665.5 797.5,661.5 805.5,657.5 813.5,654.5 821.5,652.5 829.5,650.5 837.5,649.5 845.5,649.5 853.5,649.5 861.5,648.5 869.5,649.5 877.5,650.5 885.5,653.5 893.5,655.5 901.5,656.5 909.5,659.5 917.5,662.5 925.5,664.5 933.5,667.5 941.5,669.5 949.5,669.5 957.5,668.5 965.5,666.5 973.5,662.5 981.5,657.5 989.5,651.5 997.5,645.5 1005.5,638.5 1013.5,633.5 1021.5,628.5 1029.5,625.5 1037.5,623.5 1045.5,623.5 1053.5,624.5 1061.5,626.5 1069.5,628.5 1077.5,631.5 1085.5,633.5 1093.5,635.5 1101.5,636.5 1109.5,637.5 1117.5,637.5 1125.5,636.5 1133.5,635.5 1141.5,634.5 1149.5,633.5 1157.5,632.5 1165.5,631.5 1173.5,630.5 1181.5,629.5 1189.5,628.5 1197.5,627.5 1205.5,627.5 1213.5,626.5 1221.5,625.5 1229.5,625.5 1237.5,626.5 1245.5,626.5 1253.5,627.5 1261.5,628.5 1269.5,630.5 1277.5,632.5 1285.5,634.5 1293.5,637.5 1301.5,640.5 1309.5,642.5 1317.5,645.5 1325.5,647.5 1333.5,649.5 1341.5,650.5 1349.5,650.5 1357.5,649.5 1365.5,648.5 1373.5,646.5 1381.5,646.5 1389.5,646.5 1397.5,647.5 1405.5,647.5 1413.5,648.5 1421.5,650.5 1429.5,654.5" fill="none" stroke="#ff0000" stroke-width="1" stroke-dasharray="3 3" shape-rendering="crispEdges"/>
<text transform="translate(1.5,608) scale(0.936,1)" x="0" y="0" text-anchor="start" style="font-size:10px;font-weight:normal;fill:#000;white-space:pre">MACD(12,26,9) 106.75 206.75</text>
<line x1="0" y1="790.5" x2="1684" y2="790.5" stroke="#b4b4b4" stroke-width="1" stroke-dasharray="4 4" shape-rendering="crispEdges"/>
<line x1="0" y1="841.5" x2="1684" y2="841.5" stroke="#b4b4b4" stroke-width="1" stroke-dasharray="4 4" shape-rendering="crispEdges"/>
<line x1="0" y1="902.5" x2="1684" y2="902.5" stroke="#b4b4b4" stroke-width="1" stroke-dasharray="4 4" shape-rendering="crispEdges"/>
<polyline points="0.0,835.5 5.5,836.5 13.5,845.5 21.5,836.5 29.5,839.5 37.5,842.5 45.5,857.5 53.5,865.5 61.5,877.5 69.5,879.5 77.5,877.5 85.5,880.5 93.5,859.5 101.5,841.5 109.5,838.5 117.5,828.5 125.5,828.5 133.5,823.5 141.5,813.5 149.5,810.5 157.5,810.5 165.5,819.5 173.5,812.5 181.5,809.5 189.5,806.5 197.5,810.5 205.5,821.5 213.5,827.5 221.5,829.5 229.5,826.5 237.5,817.5 245.5,811.5 253.5,818.5 261.5,820.5 269.5,818.5 277.5,818.5 285.5,824.5 293.5,823.5 301.5,821.5 309.5,818.5 317.5,813.5 325.5,812.5 333.5,823.5 341.5,817.5 349.5,822.5 357.5,823.5 365.5,823.5 373.5,820.5 381.5,831.5 389.5,825.5 397.5,826.5 405.5,823.5 413.5,825.5 421.5,825.5 429.5,829.5 437.5,835.5 445.5,831.5 453.5,830.5 461.5,828.5 469.5,818.5 477.5,825.5 485.5,821.5 493.5,816.5 501.5,815.5 509.5,839.5 517.5,833.5 525.5,815.5 533.5,810.5 541.5,808.5 549.5,814.5 557.5,814.5 565.5,812.5 573.5,812.5 581.5,816.5 589.5,833.5 597.5,833.5 605.5,827.5 613.5,822.5 621.5,815.5 629.5,819.5 637.5,827.5 645.5,824.5 653.5,833.5 661.5,832.5 669.5,867.5 677.5,848.5 685.5,864.5 693.5,867.5 701.5,851.5 709.5,838.5 717.5,837.5 725.5,829.5 733.5,827.5 741.5,827.5 749.5,822.5 757.5,822.5 765.5,820.5 773.5,819.5 781.5,818.5 789.5,818.5 797.5,814.5 805.5,822.5 813.5,816.5 821.5,825.5 829.5,825.5 837.5,823.5 845.5,822.5 853.5,824.5 861.5,807.5 869.5,838.5 877.5,852.5 885.5,845.5 893.5,832.5 901.5,835.5 909.5,845.5 917.5,852.5 925.5,835.5 933.5,832.5 941.5,825.5 949.5,828.5 957.5,819.5 965.5,815.5 973.5,811.5 981.5,809.5 989.5,809.5 997.5,815.5 1005.5,811.5 1013.5,818.5 1021.5,828.5 1029.5,829.5 1037.5,824.5 1045.5,836.5 1053.5,834.5 1061.5,830.5 1069.5,820.5 1077.5,823.5 1085.5,819.5 1093.5,823.5 1101.5,824.5 1109.5,821.5 1117.5,816.5 1125.5,812.5 1133.5,814.5 1141.5,814.5 1149.5,812.5 1157.5,808.5 1165.5,808.5 1173.5,808.5 1181.5,814.5 1189.5,810.5 1197.5,803.5 1205.5,800.5 1213.5,806.5 1221.5,804.5 1229.5,824.5 1237.5,816.5 1245.5,827.5 1253.5,822.5 1261.5,821.5 1269.5,823.5 1277.5,827.5 1285.5,830.5 1293.5,824.5 1301.5,830.5 1309.5,828.5 1317.5,822.5 1325.5,821.5 1333.5,817.5 1341.5,807.5 1349.5,800.5 1357.5,800.5 1365.5,801.5 1373.5,830.5 1381.5,854.5 1389.5,837.5 1397.5,830.5 1405.5,830.5 1413.5,830.5 1421.5,846.5 1429.5,848.5" fill="none" stroke="#1e90ff" stroke-width="1" shape-rendering="crispEdges"/>
<text transform="translate(1.5,767) scale(0.918,1)" x="0" y="0" text-anchor="start" style="font-size:10px;font-weight:normal;fill:#000;white-space:pre">RSI(14) 46.1303</text>
<rect x="1685" y="29" width="2" height="1" fill="#000"/>
<text transform="translate(1690,33) scale(0.907,1)" x="0" y="0" text-anchor="start" style="font-size:10px;font-weight:normal;fill:#000;white-space:pre">35433.0</text>
<rect x="1685" y="63" width="2" height="1" fill="#000"/>
<text transform="translate(1690,67) scale(0.907,1)" x="0" y="0" text-anchor="start" style="font-size:10px;font-weight:normal;fill:#000;white-space:pre">34855.0</text>
<rect x="1685" y="96" width="2" height="1" fill="#000"/>
<text transform="translate(1690,100) scale(0.907,1)" x="0" y="0" text-anchor="start" style="font-size:10px;font-weight:normal;fill:#000;white-space:pre">34294.0</text>
<rect x="1685" y="129" width="2" height="1" fill="#000"/>
<text transform="translate(1690,133) scale(0.907,1)" x="0" y="0" text-anchor="start" style="font-size:10px;font-weight:normal;fill:#000;white-space:pre">33716.0</text>
<rect x="1685" y="162" width="2" height="1" fill="#000"/>
<text transform="translate(1690,166) scale(0.907,1)" x="0" y="0" text-anchor="start" style="font-size:10px;font-weight:normal;fill:#000;white-space:pre">33155.0</text>
<rect x="1685" y="195" width="2" height="1" fill="#000"/>
<text transform="translate(1690,199) scale(0.907,1)" x="0" y="0" text-anchor="start" style="font-size:10px;font-weight:normal;fill:#000;white-space:pre">32577.0</text>
<rect x="1685" y="228" width="2" height="1" fill="#000"/>
<text transform="translate(1690,232) scale(0.907,1)" x="0" y="0" text-anchor="start" style="font-size:10px;font-weight:normal;fill:#000;white-space:pre">32016.0</text>
<rect x="1685" y="261" width="2" height="1" fill="#000"/>
<text transform="translate(1690,265) scale(0.907,1)" x="0" y="0" text-anchor="start" style="font-size:10px;font-weight:normal;fill:#000;white-space:pre">31455.0</text>
<rect x="1685" y="294" width="2" height="1" fill="#000"/>
<text transform="translate(1690,298) scale(0.907,1)" x="0" y="0" text-anchor="start" style="font-size:10px;font-weight:normal;fill:#000;white-space:pre">30877.0</text>
<rect x="1685" y="327" width="2" height="1" fill="#000"/>
<text transform="translate(1690,331) scale(0.907,1)" x="0" y="0" text-anchor="start" style="font-size:10px;font-weight:normal;fill:#000;white-space:pre">30316.0</text>
<rect x="1685" y="360" width="2" height="1" fill="#000"/>
<text transform="translate(1690,364) scale(0.907,1)" x="0" y="0" text-anchor="start" style="font-size:10px;font-weight:normal;fill:#000;white-space:pre">29738.0</text>
<rect x="1685" y="393" width="2" height="1" fill="#000"/>
<text transform="translate(1690,397) scale(0.907,1)" x="0" y="0" text-anchor="start" style="font-size:10px;font-weight:normal;fill:#000;white-space:pre">29177.0</text>
<rect x="1685" y="426" width="2" height="1" fill="#000"/>
<text transform="translate(1690,430) scale(0.907,1)" x="0" y="0" text-anchor="start" style="font-size:10px;font-weight:normal;fill:#000;white-space:pre">28616.0</text>
<rect x="1685" y="459" width="2" height="1" fill="#000"/>
<text transform="translate(1690,463) scale(0.907,1)" x="0" y="0" text-anchor="start" style="font-size:10px;font-weight:normal;fill:#000;white-space:pre">28038.0</text>
<rect x="1685" y="492" width="2" height="1" fill="#000"/>
<text transform="translate(1690,496) scale(0.907,1)" x="0" y="0" text-anchor="start" style="font-size:10px;font-weight:normal;fill:#000;white-space:pre">27477.0</text>
<rect x="1685" y="525" width="2" height="1" fill="#000"/>
<text transform="translate(1690,529) scale(0.907,1)" x="0" y="0" text-anchor="start" style="font-size:10px;font-weight:normal;fill:#000;white-space:pre">26899.0</text>
<rect x="1685" y="558" width="2" height="1" fill="#000"/>
<text transform="translate(1690,562) scale(0.907,1)" x="0" y="0" text-anchor="start" style="font-size:10px;font-weight:normal;fill:#000;white-space:pre">26338.0</text>
<rect x="1685" y="591" width="2" height="1" fill="#000"/>
<text transform="translate(1690,595) scale(0.907,1)" x="0" y="0" text-anchor="start" style="font-size:10px;font-weight:normal;fill:#000;white-space:pre">25777.0</text>
<rect x="1685" y="598" width="1" height="1" fill="#000"/><text transform="translate(1688,607) scale(0.907,1)" x="0" y="0" text-anchor="start" style="font-size:10px;font-weight:normal;fill:#000;white-space:pre">565.66</text>
<rect x="1685" y="686" width="2" height="1" fill="#000"/><text transform="translate(1690,690) scale(0.907,1)" x="0" y="0" text-anchor="start" style="font-size:10px;font-weight:normal;fill:#000;white-space:pre">0.00</text>
<rect x="1685" y="751" width="1" height="1" fill="#000"/><text transform="translate(1687,749) scale(0.907,1)" x="0" y="0" text-anchor="start" style="font-size:10px;font-weight:normal;fill:#000;white-space:pre">-419.33</text>
<rect x="1685" y="756" width="1" height="1" fill="#000"/><text transform="translate(1688,765) scale(0.907,1)" x="0" y="0" text-anchor="start" style="font-size:10px;font-weight:normal;fill:#000;white-space:pre">100</text>
<rect x="1685" y="790" width="2" height="1" fill="#000"/><text transform="translate(1688,794) scale(0.907,1)" x="0" y="0" text-anchor="start" style="font-size:10px;font-weight:normal;fill:#000;white-space:pre">80</text>
<rect x="1685" y="841" width="2" height="1" fill="#000"/><text transform="translate(1688,845) scale(0.907,1)" x="0" y="0" text-anchor="start" style="font-size:10px;font-weight:normal;fill:#000;white-space:pre">50</text>
<rect x="1685" y="902" width="2" height="1" fill="#000"/><text transform="translate(1688,906) scale(0.907,1)" x="0" y="0" text-anchor="start" style="font-size:10px;font-weight:normal;fill:#000;white-space:pre">15</text>
<rect x="1685" y="927" width="1" height="1" fill="#000"/><text transform="translate(1688,925) scale(0.907,1)" x="0" y="0" text-anchor="start" style="font-size:10px;font-weight:normal;fill:#000;white-space:pre">0</text>
<rect x="1686" y="69" width="41" height="11" fill="#ff0000"/>
<text transform="translate(1690,79) scale(0.907,1)" x="0" y="0" text-anchor="start" style="font-size:10px;font-weight:normal;fill:#fff;white-space:pre">34643.4</text>
<rect x="1686" y="85" width="41" height="11" fill="#ff0000"/>
<text transform="translate(1690,95) scale(0.907,1)" x="0" y="0" text-anchor="start" style="font-size:10px;font-weight:normal;fill:#fff;white-space:pre">34368.5</text>
<rect x="1686" y="104" width="41" height="11" fill="#32cd32"/>
<text transform="translate(1690,114) scale(0.907,1)" x="0" y="0" text-anchor="start" style="font-size:10px;font-weight:normal;fill:#fff;white-space:pre">34042.1</text>
<rect x="1686" y="120" width="41" height="11" fill="#000000"/>
<text transform="translate(1690,130) scale(0.907,1)" x="0" y="0" text-anchor="start" style="font-size:10px;font-weight:normal;fill:#fff;white-space:pre">33781.0</text>
<rect x="1686" y="138" width="41" height="11" fill="#0000ff"/>
<text transform="translate(1690,148) scale(0.907,1)" x="0" y="0" text-anchor="start" style="font-size:10px;font-weight:normal;fill:#fff;white-space:pre">33457.9</text>
<rect x="1686" y="154" width="41" height="11" fill="#0000ff"/>
<text transform="translate(1690,164) scale(0.907,1)" x="0" y="0" text-anchor="start" style="font-size:10px;font-weight:normal;fill:#fff;white-space:pre">33183.0</text>
<text transform="translate(-3.5,941) scale(0.92,1)" x="0" y="0" text-anchor="start" style="font-size:10px;font-weight:normal;fill:#000;white-space:pre">19 Oct 2020</text>
<rect x="61" y="929" width="1" height="3" fill="#000"/>
<text transform="translate(60,941) scale(0.92,1)" x="0" y="0" text-anchor="start" style="font-size:10px;font-weight:normal;fill:#000;white-space:pre">28 Oct 2020</text>
<rect x="125" y="929" width="1" height="3" fill="#000"/>
<text transform="translate(124,941) scale(0.92,1)" x="0" y="0" text-anchor="start" style="font-size:10px;font-weight:normal;fill:#000;white-space:pre">6 Nov 2020</text>
<rect x="189" y="929" width="1" height="3" fill="#000"/>
<text transform="translate(188,941) scale(0.92,1)" x="0" y="0" text-anchor="start" style="font-size:10px;font-weight:normal;fill:#000;white-space:pre">16 Nov 2020</text>
<rect x="253" y="929" width="1" height="3" fill="#000"/>
<text transform="translate(252,941) scale(0.92,1)" x="0" y="0" text-anchor="start" style="font-size:10px;font-weight:normal;fill:#000;white-space:pre">25 Nov 2020</text>
<rect x="317" y="929" width="1" height="3" fill="#000"/>
<text transform="translate(316,941) scale(0.92,1)" x="0" y="0" text-anchor="start" style="font-size:10px;font-weight:normal;fill:#000;white-space:pre">4 Dec 2020</text>
<rect x="381" y="929" width="1" height="3" fill="#000"/>
<text transform="translate(380,941) scale(0.92,1)" x="0" y="0" text-anchor="start" style="font-size:10px;font-weight:normal;fill:#000;white-space:pre">14 Dec 2020</text>
<rect x="445" y="929" width="1" height="3" fill="#000"/>
<text transform="translate(444,941) scale(0.92,1)" x="0" y="0" text-anchor="start" style="font-size:10px;font-weight:normal;fill:#000;white-space:pre">23 Dec 2020</text>
<rect x="509" y="929" width="1" height="3" fill="#000"/>
<text transform="translate(508,941) scale(0.92,1)" x="0" y="0" text-anchor="start" style="font-size:10px;font-weight:normal;fill:#000;white-space:pre">4 Jan 2021</text>
<rect x="573" y="929" width="1" height="3" fill="#000"/>
<text transform="translate(572,941) scale(0.92,1)" x="0" y="0" text-anchor="start" style="font-size:10px;font-weight:normal;fill:#000;white-space:pre">13 Jan 2021</text>
<rect x="637" y="929" width="1" height="3" fill="#000"/>
<text transform="translate(636,941) scale(0.92,1)" x="0" y="0" text-anchor="start" style="font-size:10px;font-weight:normal;fill:#000;white-space:pre">22 Jan 2021</text>
<rect x="701" y="929" width="1" height="3" fill="#000"/>
<text transform="translate(700,941) scale(0.92,1)" x="0" y="0" text-anchor="start" style="font-size:10px;font-weight:normal;fill:#000;white-space:pre">1 Feb 2021</text>
<rect x="765" y="929" width="1" height="3" fill="#000"/>
<text transform="translate(764,941) scale(0.92,1)" x="0" y="0" text-anchor="start" style="font-size:10px;font-weight:normal;fill:#000;white-space:pre">10 Feb 2021</text>
<rect x="829" y="929" width="1" height="3" fill="#000"/>
<text transform="translate(828,941) scale(0.92,1)" x="0" y="0" text-anchor="start" style="font-size:10px;font-weight:normal;fill:#000;white-space:pre">19 Feb 2021</text>
<rect x="893" y="929" width="1" height="3" fill="#000"/>
<text transform="translate(892,941) scale(0.92,1)" x="0" y="0" text-anchor="start" style="font-size:10px;font-weight:normal;fill:#000;white-space:pre">1 Mar 2021</text>
<rect x="957" y="929" width="1" height="3" fill="#000"/>
<text transform="translate(956,941) scale(0.92,1)" x="0" y="0" text-anchor="start" style="font-size:10px;font-weight:normal;fill:#000;white-space:pre">10 Mar 2021</text>
<rect x="1021" y="929" width="1" height="3" fill="#000"/>
<text transform="translate(1020,941) scale(0.92,1)" x="0" y="0" text-anchor="start" style="font-size:10px;font-weight:normal;fill:#000;white-space:pre">19 Mar 2021</text>
<rect x="1085" y="929" width="1" height="3" fill="#000"/>
<text transform="translate(1084,941) scale(0.92,1)" x="0" y="0" text-anchor="start" style="font-size:10px;font-weight:normal;fill:#000;white-space:pre">29 Mar 2021</text>
<rect x="1149" y="929" width="1" height="3" fill="#000"/>
<text transform="translate(1148,941) scale(0.92,1)" x="0" y="0" text-anchor="start" style="font-size:10px;font-weight:normal;fill:#000;white-space:pre">8 Apr 2021</text>
<rect x="1213" y="929" width="1" height="3" fill="#000"/>
<text transform="translate(1212,941) scale(0.92,1)" x="0" y="0" text-anchor="start" style="font-size:10px;font-weight:normal;fill:#000;white-space:pre">18 Apr 2021</text>
<rect x="1277" y="929" width="1" height="3" fill="#000"/>
<text transform="translate(1276,941) scale(0.92,1)" x="0" y="0" text-anchor="start" style="font-size:10px;font-weight:normal;fill:#000;white-space:pre">27 Apr 2021</text>
<rect x="1341" y="929" width="1" height="3" fill="#000"/>
<text transform="translate(1340,941) scale(0.92,1)" x="0" y="0" text-anchor="start" style="font-size:10px;font-weight:normal;fill:#000;white-space:pre">6 May 2021</text>
<rect x="1405" y="929" width="1" height="3" fill="#000"/>
<text transform="translate(1404,941) scale(0.92,1)" x="0" y="0" text-anchor="start" style="font-size:10px;font-weight:normal;fill:#000;white-space:pre">16 May 2021</text>
</svg></body></html>
